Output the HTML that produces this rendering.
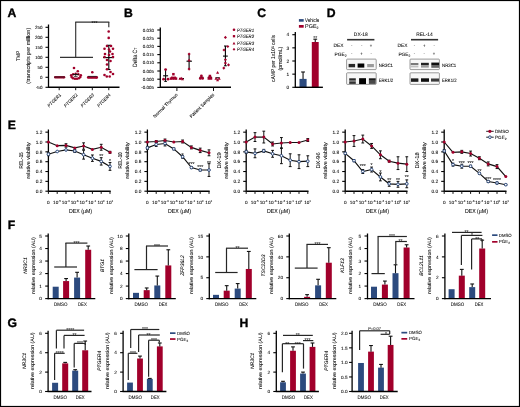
<!DOCTYPE html>
<html><head><meta charset="utf-8"><style>
html,body{margin:0;padding:0;background:#fff;width:520px;height:407px;overflow:hidden;}
svg{display:block;will-change:transform;}

</style></head><body>
<svg width="520" height="407" viewBox="0 0 520 407" text-rendering="geometricPrecision" font-family='"Liberation Sans", sans-serif'>
<rect x="0.00" y="0.00" width="520.00" height="407.00" fill="#fff"/>
<text x="7.50" y="17.30" font-size="12.2" font-weight="bold" fill="#000" stroke="#000" stroke-width="0.35">A</text>
<line x1="48.50" y1="24.50" x2="48.50" y2="87.90" stroke="#000" stroke-width="1.3"/>
<line x1="45.50" y1="87.30" x2="48.50" y2="87.30" stroke="#000" stroke-width="1.1"/>
<text x="42.40" y="88.91" font-size="4.5" text-anchor="end" fill="#000" stroke="#000" stroke-width="0.06">-50</text>
<line x1="45.50" y1="77.30" x2="48.50" y2="77.30" stroke="#000" stroke-width="1.1"/>
<text x="42.40" y="78.91" font-size="4.5" text-anchor="end" fill="#000" stroke="#000" stroke-width="0.06">0</text>
<line x1="45.50" y1="67.30" x2="48.50" y2="67.30" stroke="#000" stroke-width="1.1"/>
<text x="42.40" y="68.91" font-size="4.5" text-anchor="end" fill="#000" stroke="#000" stroke-width="0.06">50</text>
<line x1="45.50" y1="57.30" x2="48.50" y2="57.30" stroke="#000" stroke-width="1.1"/>
<text x="42.40" y="58.91" font-size="4.5" text-anchor="end" fill="#000" stroke="#000" stroke-width="0.06">100</text>
<line x1="45.50" y1="47.30" x2="48.50" y2="47.30" stroke="#000" stroke-width="1.1"/>
<text x="42.40" y="48.91" font-size="4.5" text-anchor="end" fill="#000" stroke="#000" stroke-width="0.06">150</text>
<line x1="45.50" y1="37.30" x2="48.50" y2="37.30" stroke="#000" stroke-width="1.1"/>
<text x="42.40" y="38.91" font-size="4.5" text-anchor="end" fill="#000" stroke="#000" stroke-width="0.06">200</text>
<line x1="45.50" y1="27.30" x2="48.50" y2="27.30" stroke="#000" stroke-width="1.1"/>
<text x="42.40" y="28.91" font-size="4.5" text-anchor="end" fill="#000" stroke="#000" stroke-width="0.06">250</text>
<line x1="48.50" y1="87.30" x2="119.50" y2="87.30" stroke="#000" stroke-width="1.4"/>
<line x1="59.20" y1="87.30" x2="59.20" y2="90.20" stroke="#111" stroke-width="1"/>
<text x="61.40" y="95.40" font-size="4.6" text-anchor="end" font-style="italic" fill="#000" stroke="#000" stroke-width="0.06" textLength="17" lengthAdjust="spacingAndGlyphs" transform="rotate(-45 61.40 95.40)">PTGER1</text>
<line x1="75.70" y1="87.30" x2="75.70" y2="90.20" stroke="#111" stroke-width="1"/>
<text x="77.90" y="95.40" font-size="4.6" text-anchor="end" font-style="italic" fill="#000" stroke="#000" stroke-width="0.06" textLength="17" lengthAdjust="spacingAndGlyphs" transform="rotate(-45 77.90 95.40)">PTGER2</text>
<line x1="92.30" y1="87.30" x2="92.30" y2="90.20" stroke="#111" stroke-width="1"/>
<text x="94.50" y="95.40" font-size="4.6" text-anchor="end" font-style="italic" fill="#000" stroke="#000" stroke-width="0.06" textLength="17" lengthAdjust="spacingAndGlyphs" transform="rotate(-45 94.50 95.40)">PTGER3</text>
<line x1="108.80" y1="87.30" x2="108.80" y2="90.20" stroke="#111" stroke-width="1"/>
<text x="111.00" y="95.40" font-size="4.6" text-anchor="end" font-style="italic" fill="#000" stroke="#000" stroke-width="0.06" textLength="17" lengthAdjust="spacingAndGlyphs" transform="rotate(-45 111.00 95.40)">PTGER4</text>
<text x="20.40" y="55.80" font-size="5.3" text-anchor="middle" fill="#000" stroke="#000" stroke-width="0.06" textLength="10.3" lengthAdjust="spacingAndGlyphs" transform="rotate(-90 20.40 55.80)">TMP</text>
<text x="30.13" y="55.70" font-size="5.4" text-anchor="middle" fill="#000" stroke="#000" stroke-width="0.06" textLength="55.9" lengthAdjust="spacingAndGlyphs" transform="rotate(-90 30.13 55.70)">(transcripts per million)</text>
<line x1="60.00" y1="57.30" x2="93.00" y2="57.30" stroke="#333" stroke-width="1.15"/>
<line x1="75.70" y1="57.30" x2="75.70" y2="22.10" stroke="#333" stroke-width="1.15"/>
<line x1="75.20" y1="22.10" x2="109.30" y2="22.10" stroke="#333" stroke-width="1.15"/>
<line x1="108.80" y1="22.10" x2="108.80" y2="27.30" stroke="#333" stroke-width="1.15"/>
<text x="94.40" y="23.53" font-size="3.9" text-anchor="middle" fill="#000" stroke="#000" stroke-width="0.06" textLength="6.0" lengthAdjust="spacingAndGlyphs">***</text>
<circle cx="55.30" cy="77.30" r="1.3" fill="#a1002b"/>
<circle cx="56.60" cy="77.30" r="1.3" fill="#a1002b"/>
<circle cx="57.90" cy="77.30" r="1.3" fill="#a1002b"/>
<circle cx="59.20" cy="77.30" r="1.3" fill="#a1002b"/>
<circle cx="60.50" cy="77.30" r="1.3" fill="#a1002b"/>
<circle cx="61.80" cy="77.30" r="1.3" fill="#a1002b"/>
<circle cx="63.10" cy="77.30" r="1.3" fill="#a1002b"/>
<circle cx="64.00" cy="77.30" r="1.3" fill="#a1002b"/>
<line x1="54.20" y1="77.00" x2="64.80" y2="77.00" stroke="#222" stroke-width="0.8"/>
<circle cx="74.00" cy="68.00" r="1.3" fill="#a1002b"/>
<circle cx="77.80" cy="71.20" r="1.3" fill="#a1002b"/>
<circle cx="71.20" cy="75.20" r="1.3" fill="#a1002b"/>
<circle cx="71.60" cy="77.00" r="1.3" fill="#a1002b"/>
<circle cx="73.00" cy="78.20" r="1.3" fill="#a1002b"/>
<circle cx="75.00" cy="78.70" r="1.3" fill="#a1002b"/>
<circle cx="77.00" cy="78.70" r="1.3" fill="#a1002b"/>
<circle cx="78.90" cy="78.20" r="1.3" fill="#a1002b"/>
<circle cx="80.30" cy="77.00" r="1.3" fill="#a1002b"/>
<circle cx="80.80" cy="75.20" r="1.3" fill="#a1002b"/>
<circle cx="73.20" cy="74.20" r="1.3" fill="#a1002b"/>
<circle cx="78.30" cy="74.20" r="1.3" fill="#a1002b"/>
<circle cx="75.70" cy="73.80" r="1.3" fill="#a1002b"/>
<line x1="72.60" y1="74.50" x2="78.80" y2="74.50" stroke="#111" stroke-width="0.9"/>
<line x1="75.70" y1="73.30" x2="75.70" y2="76.40" stroke="#111" stroke-width="0.8"/>
<line x1="73.80" y1="76.40" x2="77.60" y2="76.40" stroke="#222" stroke-width="0.8"/>
<circle cx="92.30" cy="72.20" r="1.3" fill="#a1002b"/>
<circle cx="88.20" cy="77.40" r="1.3" fill="#a1002b"/>
<circle cx="89.50" cy="77.40" r="1.3" fill="#a1002b"/>
<circle cx="90.80" cy="77.40" r="1.3" fill="#a1002b"/>
<circle cx="92.10" cy="77.40" r="1.3" fill="#a1002b"/>
<circle cx="93.40" cy="77.40" r="1.3" fill="#a1002b"/>
<circle cx="94.70" cy="77.40" r="1.3" fill="#a1002b"/>
<circle cx="96.00" cy="77.40" r="1.3" fill="#a1002b"/>
<circle cx="96.80" cy="77.40" r="1.3" fill="#a1002b"/>
<line x1="88.00" y1="76.40" x2="96.60" y2="76.40" stroke="#222" stroke-width="0.8"/>
<line x1="108.80" y1="45.30" x2="108.80" y2="69.50" stroke="#000" stroke-width="1.1"/>
<line x1="106.50" y1="45.30" x2="111.20" y2="45.30" stroke="#000" stroke-width="1.1"/>
<line x1="103.00" y1="57.60" x2="114.00" y2="57.60" stroke="#000" stroke-width="1.1"/>
<line x1="107.50" y1="69.50" x2="110.50" y2="69.50" stroke="#000" stroke-width="1.1"/>
<circle cx="108.70" cy="31.50" r="1.3" fill="#a1002b"/>
<circle cx="108.70" cy="37.90" r="1.3" fill="#a1002b"/>
<circle cx="107.00" cy="46.00" r="1.3" fill="#a1002b"/>
<circle cx="111.00" cy="46.00" r="1.3" fill="#a1002b"/>
<circle cx="104.50" cy="48.80" r="1.3" fill="#a1002b"/>
<circle cx="113.00" cy="48.80" r="1.3" fill="#a1002b"/>
<circle cx="109.00" cy="49.50" r="1.3" fill="#a1002b"/>
<circle cx="110.00" cy="51.50" r="1.3" fill="#a1002b"/>
<circle cx="105.00" cy="54.00" r="1.3" fill="#a1002b"/>
<circle cx="112.50" cy="54.00" r="1.3" fill="#a1002b"/>
<circle cx="109.00" cy="55.00" r="1.3" fill="#a1002b"/>
<circle cx="104.50" cy="57.00" r="1.3" fill="#a1002b"/>
<circle cx="113.00" cy="57.00" r="1.3" fill="#a1002b"/>
<circle cx="107.00" cy="60.00" r="1.3" fill="#a1002b"/>
<circle cx="110.50" cy="61.00" r="1.3" fill="#a1002b"/>
<circle cx="107.00" cy="64.50" r="1.3" fill="#a1002b"/>
<circle cx="107.00" cy="69.30" r="1.3" fill="#a1002b"/>
<circle cx="110.50" cy="72.00" r="1.3" fill="#a1002b"/>
<circle cx="113.00" cy="74.00" r="1.3" fill="#a1002b"/>
<circle cx="104.50" cy="75.00" r="1.3" fill="#a1002b"/>
<circle cx="106.80" cy="76.50" r="1.3" fill="#a1002b"/>
<circle cx="109.70" cy="76.50" r="1.3" fill="#a1002b"/>
<text x="124.00" y="17.20" font-size="12.2" font-weight="bold" fill="#000" stroke="#000" stroke-width="0.35">B</text>
<line x1="160.30" y1="27.50" x2="160.30" y2="87.90" stroke="#000" stroke-width="1.3"/>
<line x1="157.30" y1="87.40" x2="160.30" y2="87.40" stroke="#000" stroke-width="1.1"/>
<text x="154.00" y="89.01" font-size="4.5" text-anchor="end" fill="#000" stroke="#000" stroke-width="0.06">-0.005</text>
<line x1="157.30" y1="79.20" x2="160.30" y2="79.20" stroke="#000" stroke-width="1.1"/>
<text x="154.00" y="80.81" font-size="4.5" text-anchor="end" fill="#000" stroke="#000" stroke-width="0.06">0.000</text>
<line x1="157.30" y1="71.00" x2="160.30" y2="71.00" stroke="#000" stroke-width="1.1"/>
<text x="154.00" y="72.61" font-size="4.5" text-anchor="end" fill="#000" stroke="#000" stroke-width="0.06">0.005</text>
<line x1="157.30" y1="62.80" x2="160.30" y2="62.80" stroke="#000" stroke-width="1.1"/>
<text x="154.00" y="64.41" font-size="4.5" text-anchor="end" fill="#000" stroke="#000" stroke-width="0.06">0.010</text>
<line x1="157.30" y1="54.60" x2="160.30" y2="54.60" stroke="#000" stroke-width="1.1"/>
<text x="154.00" y="56.21" font-size="4.5" text-anchor="end" fill="#000" stroke="#000" stroke-width="0.06">0.015</text>
<line x1="157.30" y1="46.40" x2="160.30" y2="46.40" stroke="#000" stroke-width="1.1"/>
<text x="154.00" y="48.01" font-size="4.5" text-anchor="end" fill="#000" stroke="#000" stroke-width="0.06">0.020</text>
<line x1="157.30" y1="38.20" x2="160.30" y2="38.20" stroke="#000" stroke-width="1.1"/>
<text x="154.00" y="39.81" font-size="4.5" text-anchor="end" fill="#000" stroke="#000" stroke-width="0.06">0.025</text>
<line x1="157.30" y1="30.00" x2="160.30" y2="30.00" stroke="#000" stroke-width="1.1"/>
<text x="154.00" y="31.61" font-size="4.5" text-anchor="end" fill="#000" stroke="#000" stroke-width="0.06">0.030</text>
<line x1="160.30" y1="87.30" x2="231.00" y2="87.30" stroke="#000" stroke-width="1.4"/>
<text x="177.90" y="95.20" font-size="4.6" text-anchor="end" fill="#000" stroke="#000" stroke-width="0.06" textLength="32.5" lengthAdjust="spacingAndGlyphs" transform="rotate(-45 177.90 95.20)">Normal Thymus</text>
<text x="214.50" y="95.20" font-size="4.6" text-anchor="end" fill="#000" stroke="#000" stroke-width="0.06" textLength="32.5" lengthAdjust="spacingAndGlyphs" transform="rotate(-45 214.50 95.20)">Patient Samples</text>
<line x1="176.90" y1="87.30" x2="176.90" y2="91.00" stroke="#111" stroke-width="1"/>
<line x1="213.50" y1="87.30" x2="213.50" y2="91.00" stroke="#111" stroke-width="1"/>
<text x="136.52" y="57.30" font-size="6.2" text-anchor="middle" fill="#000" stroke="#000" stroke-width="0.06" textLength="19.5" lengthAdjust="spacingAndGlyphs" transform="rotate(-90 136.52 57.30)">Delta C<tspan font-size="4.2" dy="0.9">T</tspan></text>
<line x1="165.60" y1="75.80" x2="165.60" y2="69.80" stroke="#000" stroke-width="1.0"/>
<line x1="165.60" y1="69.80" x2="165.60" y2="69.80" stroke="#000" stroke-width="1.0"/>
<line x1="165.60" y1="75.80" x2="165.60" y2="81.40" stroke="#000" stroke-width="1.0"/>
<line x1="164.30" y1="81.40" x2="166.90" y2="81.40" stroke="#000" stroke-width="1.0"/>
<line x1="163.10" y1="75.80" x2="168.10" y2="75.80" stroke="#000" stroke-width="1.1"/>
<circle cx="165.60" cy="69.60" r="1.4" fill="#a1002b"/>
<circle cx="163.60" cy="79.20" r="1.4" fill="#a1002b"/>
<circle cx="168.00" cy="79.20" r="1.4" fill="#a1002b"/>
<line x1="171.00" y1="77.60" x2="176.00" y2="77.60" stroke="#000" stroke-width="1.1"/>
<rect x="172.15" y="72.95" width="2.50" height="2.50" fill="#a1002b"/>
<rect x="169.75" y="77.35" width="2.50" height="2.50" fill="#a1002b"/>
<rect x="172.25" y="77.35" width="2.50" height="2.50" fill="#a1002b"/>
<rect x="174.75" y="77.35" width="2.50" height="2.50" fill="#a1002b"/>
<rect x="170.95" y="76.55" width="2.50" height="2.50" fill="#a1002b"/>
<rect x="173.55" y="76.55" width="2.50" height="2.50" fill="#a1002b"/>
<line x1="179.00" y1="78.60" x2="184.00" y2="78.60" stroke="#000" stroke-width="1.1"/>
<polygon points="180.00,76.94 181.56,79.67 178.44,79.67" fill="#a1002b"/>
<polygon points="182.50,77.44 184.06,80.17 180.94,80.17" fill="#a1002b"/>
<polygon points="181.30,76.64 182.86,79.37 179.74,79.37" fill="#a1002b"/>
<line x1="189.10" y1="54.10" x2="189.10" y2="69.10" stroke="#000" stroke-width="1.1"/>
<line x1="186.50" y1="61.20" x2="191.90" y2="61.20" stroke="#000" stroke-width="1.1"/>
<polygon points="189.10,52.55 190.65,54.10 189.10,55.65 187.55,54.10" fill="#a1002b"/>
<polygon points="189.10,58.85 190.65,60.40 189.10,61.95 187.55,60.40" fill="#a1002b"/>
<polygon points="189.10,67.55 190.65,69.10 189.10,70.65 187.55,69.10" fill="#a1002b"/>
<line x1="199.50" y1="77.30" x2="203.50" y2="77.30" stroke="#000" stroke-width="1.1"/>
<circle cx="201.40" cy="76.00" r="1.4" fill="#a1002b"/>
<circle cx="200.30" cy="78.40" r="1.4" fill="#a1002b"/>
<circle cx="202.60" cy="78.40" r="1.4" fill="#a1002b"/>
<line x1="207.80" y1="77.30" x2="212.00" y2="77.30" stroke="#000" stroke-width="1.1"/>
<rect x="208.65" y="74.75" width="2.50" height="2.50" fill="#a1002b"/>
<rect x="207.55" y="77.25" width="2.50" height="2.50" fill="#a1002b"/>
<rect x="209.75" y="77.25" width="2.50" height="2.50" fill="#a1002b"/>
<rect x="208.65" y="75.95" width="2.50" height="2.50" fill="#a1002b"/>
<line x1="215.50" y1="77.80" x2="219.70" y2="77.80" stroke="#000" stroke-width="1.1"/>
<polygon points="217.60,71.04 219.16,73.77 216.04,73.77" fill="#a1002b"/>
<polygon points="216.00,77.04 217.56,79.77 214.44,79.77" fill="#a1002b"/>
<polygon points="219.20,77.04 220.76,79.77 217.64,79.77" fill="#a1002b"/>
<polygon points="217.60,78.44 219.16,81.17 216.04,81.17" fill="#a1002b"/>
<line x1="225.40" y1="46.00" x2="225.40" y2="65.80" stroke="#000" stroke-width="1.1"/>
<line x1="224.00" y1="46.00" x2="226.80" y2="46.00" stroke="#000" stroke-width="1.0"/>
<line x1="224.00" y1="65.80" x2="226.80" y2="65.80" stroke="#000" stroke-width="1.0"/>
<line x1="223.00" y1="56.10" x2="227.80" y2="56.10" stroke="#000" stroke-width="1.1"/>
<polygon points="225.40,35.85 226.95,37.40 225.40,38.95 223.85,37.40" fill="#a1002b"/>
<polygon points="227.80,44.95 229.35,46.50 227.80,48.05 226.25,46.50" fill="#a1002b"/>
<polygon points="224.00,48.45 225.55,50.00 224.00,51.55 222.45,50.00" fill="#a1002b"/>
<polygon points="225.40,58.15 226.95,59.70 225.40,61.25 223.85,59.70" fill="#a1002b"/>
<polygon points="225.40,61.55 226.95,63.10 225.40,64.65 223.85,63.10" fill="#a1002b"/>
<polygon points="228.50,63.35 230.05,64.90 228.50,66.45 226.95,64.90" fill="#a1002b"/>
<polygon points="223.80,66.55 225.35,68.10 223.80,69.65 222.25,68.10" fill="#a1002b"/>
<circle cx="234.00" cy="29.80" r="1.3" fill="#a1002b"/>
<rect x="232.85" y="35.05" width="2.30" height="2.30" fill="#a1002b"/>
<polygon points="234.00,41.86 235.44,44.38 232.56,44.38" fill="#a1002b"/>
<polygon points="234.00,47.90 235.40,49.30 234.00,50.70 232.60,49.30" fill="#a1002b"/>
<text x="237.00" y="31.50" font-size="4.8" font-style="italic" fill="#000" stroke="#000" stroke-width="0.06" textLength="17" lengthAdjust="spacingAndGlyphs">PTGER1</text>
<text x="237.00" y="37.90" font-size="4.8" font-style="italic" fill="#000" stroke="#000" stroke-width="0.06" textLength="17" lengthAdjust="spacingAndGlyphs">PTGER2</text>
<text x="237.00" y="44.80" font-size="4.8" font-style="italic" fill="#000" stroke="#000" stroke-width="0.06" textLength="17" lengthAdjust="spacingAndGlyphs">PTGER3</text>
<text x="237.00" y="51.00" font-size="4.8" font-style="italic" fill="#000" stroke="#000" stroke-width="0.06" textLength="17" lengthAdjust="spacingAndGlyphs">PTGER4</text>
<text x="257.30" y="17.20" font-size="12.2" font-weight="bold" fill="#000" stroke="#000" stroke-width="0.35">C</text>
<line x1="295.30" y1="31.90" x2="295.30" y2="87.90" stroke="#000" stroke-width="1.3"/>
<line x1="292.30" y1="87.30" x2="295.30" y2="87.30" stroke="#000" stroke-width="1.1"/>
<text x="289.10" y="89.02" font-size="4.8" text-anchor="end" fill="#000" stroke="#000" stroke-width="0.06">0</text>
<line x1="292.30" y1="74.15" x2="295.30" y2="74.15" stroke="#000" stroke-width="1.1"/>
<text x="289.10" y="75.87" font-size="4.8" text-anchor="end" fill="#000" stroke="#000" stroke-width="0.06">1</text>
<line x1="292.30" y1="61.00" x2="295.30" y2="61.00" stroke="#000" stroke-width="1.1"/>
<text x="289.10" y="62.72" font-size="4.8" text-anchor="end" fill="#000" stroke="#000" stroke-width="0.06">2</text>
<line x1="292.30" y1="47.85" x2="295.30" y2="47.85" stroke="#000" stroke-width="1.1"/>
<text x="289.10" y="49.57" font-size="4.8" text-anchor="end" fill="#000" stroke="#000" stroke-width="0.06">3</text>
<line x1="292.30" y1="34.70" x2="295.30" y2="34.70" stroke="#000" stroke-width="1.1"/>
<text x="289.10" y="36.42" font-size="4.8" text-anchor="end" fill="#000" stroke="#000" stroke-width="0.06">4</text>
<rect x="299.50" y="78.90" width="7.10" height="8.40" fill="#2c4a7e"/>
<line x1="303.05" y1="78.90" x2="303.05" y2="72.00" stroke="#111" stroke-width="1.1"/>
<line x1="301.15" y1="72.00" x2="304.95" y2="72.00" stroke="#111" stroke-width="1.1"/>
<rect x="311.80" y="42.00" width="6.90" height="45.30" fill="#a1002b"/>
<line x1="315.25" y1="42.00" x2="315.25" y2="39.20" stroke="#111" stroke-width="1.1"/>
<line x1="313.35" y1="39.20" x2="317.15" y2="39.20" stroke="#111" stroke-width="1.1"/>
<line x1="295.30" y1="87.30" x2="322.90" y2="87.30" stroke="#000" stroke-width="1.4"/>
<text x="315.25" y="38.73" font-size="3.9" text-anchor="middle" fill="#000" stroke="#000" stroke-width="0.06" textLength="4.0" lengthAdjust="spacingAndGlyphs">**</text>
<rect x="298.90" y="19.10" width="4.80" height="2.60" fill="#2c4a7e"/>
<rect x="298.90" y="25.00" width="4.80" height="2.70" fill="#a1002b"/>
<text x="305.10" y="21.80" font-size="5.4" fill="#000" stroke="#000" stroke-width="0.06" textLength="14" lengthAdjust="spacingAndGlyphs">Vehicle</text>
<text x="305.10" y="27.80" font-size="5.4" fill="#000" stroke="#000" stroke-width="0.06">PGE<tspan font-size="3.6" dy="1.1">2</tspan></text>
<text x="275.40" y="58.50" font-size="5.6" text-anchor="middle" fill="#000" stroke="#000" stroke-width="0.06" textLength="47" lengthAdjust="spacingAndGlyphs" transform="rotate(-90 275.40 58.50)">cAMP per 1x10<tspan font-size="3.6" dy="-1.8">6</tspan><tspan dy="1.8"> cells</tspan></text>
<text x="281.53" y="58.60" font-size="5.4" text-anchor="middle" fill="#000" stroke="#000" stroke-width="0.06" textLength="24" lengthAdjust="spacingAndGlyphs" transform="rotate(-90 281.53 58.60)">(pmol/mL)</text>
<text x="326.80" y="17.40" font-size="12.2" font-weight="bold" fill="#000" stroke="#000" stroke-width="0.35">D</text>
<defs><filter id="bl" x="-20%" y="-40%" width="140%" height="180%"><feGaussianBlur stdDeviation="0.55"/></filter></defs>
<text x="360.80" y="36.05" font-size="4.9" text-anchor="middle" fill="#000" stroke="#000" stroke-width="0.06">DX-18</text>
<rect x="347.10" y="38.90" width="27.30" height="1.60" fill="#333"/>
<text x="333.50" y="47.20" font-size="4.8" fill="#000" stroke="#000" stroke-width="0.06" textLength="10" lengthAdjust="spacingAndGlyphs">DEX</text>
<text x="334.50" y="55.50" font-size="4.8" fill="#000" stroke="#000" stroke-width="0.06">PGE<tspan font-size="3.3" dy="1">2</tspan></text>
<text x="351.60" y="47.00" font-size="4.2" text-anchor="middle" fill="#000" stroke="#000" stroke-width="0.06">-</text>
<text x="351.60" y="55.30" font-size="4.2" text-anchor="middle" fill="#000" stroke="#000" stroke-width="0.06">-</text>
<text x="361.60" y="47.00" font-size="4.2" text-anchor="middle" fill="#000" stroke="#000" stroke-width="0.06">-</text>
<text x="361.60" y="55.30" font-size="4.2" text-anchor="middle" fill="#000" stroke="#000" stroke-width="0.06">+</text>
<text x="371.10" y="47.00" font-size="4.2" text-anchor="middle" fill="#000" stroke="#000" stroke-width="0.06">+</text>
<text x="371.10" y="55.30" font-size="4.2" text-anchor="middle" fill="#000" stroke="#000" stroke-width="0.06">-</text>
<rect x="346.60" y="59.10" width="29.60" height="10.50" rx="0.8" fill="#f7f7f7" stroke="#666" stroke-width="0.65"/>
<g filter="url(#bl)">
<rect x="348.60" y="63.90" width="6.50" height="3.40" fill="#2a2a2a"/>
<rect x="357.60" y="63.50" width="6.70" height="4.10" fill="#050505"/>
<rect x="367.20" y="64.00" width="6.70" height="3.20" fill="#9a9a9a"/>
</g>
<rect x="346.60" y="72.80" width="29.60" height="11.60" rx="0.8" fill="#f7f7f7" stroke="#666" stroke-width="0.65"/>
<g filter="url(#bl)">
<rect x="349.20" y="78.30" width="6.60" height="2.30" fill="#2a2a2a"/>
<rect x="349.20" y="80.60" width="6.60" height="1.00" fill="#666"/>
<rect x="349.20" y="81.60" width="6.60" height="2.30" fill="#333"/>
<rect x="359.10" y="78.20" width="6.90" height="5.80" fill="#050505"/>
<rect x="368.90" y="78.30" width="6.80" height="2.50" fill="#1a1a1a"/>
<rect x="368.90" y="80.80" width="6.80" height="3.10" fill="#4a4a4a"/>
</g>
<text x="378.70" y="67.00" font-size="4.8" fill="#000" stroke="#000" stroke-width="0.06" textLength="14.3" lengthAdjust="spacingAndGlyphs">NR3C1</text>
<text x="378.70" y="81.50" font-size="4.8" fill="#000" stroke="#000" stroke-width="0.06" textLength="14.5" lengthAdjust="spacingAndGlyphs">ERK1/2</text>
<text x="424.50" y="36.05" font-size="4.9" text-anchor="middle" fill="#000" stroke="#000" stroke-width="0.06">REL-14</text>
<rect x="411.00" y="38.90" width="27.10" height="1.60" fill="#333"/>
<text x="397.40" y="47.20" font-size="4.8" fill="#000" stroke="#000" stroke-width="0.06" textLength="10" lengthAdjust="spacingAndGlyphs">DEX</text>
<text x="398.40" y="55.50" font-size="4.8" fill="#000" stroke="#000" stroke-width="0.06">PGE<tspan font-size="3.3" dy="1">2</tspan></text>
<text x="414.50" y="47.00" font-size="4.2" text-anchor="middle" fill="#000" stroke="#000" stroke-width="0.06">-</text>
<text x="414.50" y="55.30" font-size="4.2" text-anchor="middle" fill="#000" stroke="#000" stroke-width="0.06">-</text>
<text x="424.20" y="47.00" font-size="4.2" text-anchor="middle" fill="#000" stroke="#000" stroke-width="0.06">+</text>
<text x="424.20" y="55.30" font-size="4.2" text-anchor="middle" fill="#000" stroke="#000" stroke-width="0.06">-</text>
<text x="434.10" y="47.00" font-size="4.2" text-anchor="middle" fill="#000" stroke="#000" stroke-width="0.06">-</text>
<text x="434.10" y="55.30" font-size="4.2" text-anchor="middle" fill="#000" stroke="#000" stroke-width="0.06">+</text>
<rect x="410.00" y="59.10" width="29.40" height="10.50" rx="0.8" fill="#f7f7f7" stroke="#666" stroke-width="0.65"/>
<g filter="url(#bl)">
<rect x="410.70" y="63.00" width="7.70" height="2.20" fill="#7a7a7a"/>
<rect x="410.70" y="66.00" width="7.70" height="1.40" fill="#c0c0c0"/>
<rect x="421.00" y="62.80" width="7.80" height="2.60" fill="#222"/>
<rect x="421.00" y="65.80" width="7.80" height="1.80" fill="#999"/>
<rect x="431.30" y="62.60" width="7.80" height="3.00" fill="#0a0a0a"/>
<rect x="431.30" y="65.80" width="7.80" height="2.00" fill="#666"/>
</g>
<rect x="410.00" y="72.80" width="29.40" height="11.60" rx="0.8" fill="#f7f7f7" stroke="#666" stroke-width="0.65"/>
<g filter="url(#bl)">
<rect x="411.00" y="78.40" width="7.40" height="3.40" fill="#1a1a1a"/>
<rect x="421.00" y="78.30" width="8.00" height="3.50" fill="#111"/>
<rect x="431.00" y="78.50" width="8.00" height="3.10" fill="#3a3a3a"/>
</g>
<text x="442.00" y="67.00" font-size="4.8" fill="#000" stroke="#000" stroke-width="0.06" textLength="14.3" lengthAdjust="spacingAndGlyphs">NR3C1</text>
<text x="442.00" y="81.50" font-size="4.8" fill="#000" stroke="#000" stroke-width="0.06" textLength="14.5" lengthAdjust="spacingAndGlyphs">ERK1/2</text>
<text x="7.70" y="128.80" font-size="12.2" font-weight="bold" fill="#000" stroke="#000" stroke-width="0.35">E</text>
<line x1="48.40" y1="129.50" x2="48.40" y2="191.80" stroke="#000" stroke-width="1.3"/>
<line x1="45.40" y1="191.20" x2="48.40" y2="191.20" stroke="#000" stroke-width="1.1"/>
<text x="42.30" y="192.92" font-size="4.8" text-anchor="end" fill="#000" stroke="#000" stroke-width="0.06">0.0</text>
<line x1="45.40" y1="181.36" x2="48.40" y2="181.36" stroke="#000" stroke-width="1.1"/>
<text x="42.30" y="183.08" font-size="4.8" text-anchor="end" fill="#000" stroke="#000" stroke-width="0.06">0.2</text>
<line x1="45.40" y1="171.52" x2="48.40" y2="171.52" stroke="#000" stroke-width="1.1"/>
<text x="42.30" y="173.24" font-size="4.8" text-anchor="end" fill="#000" stroke="#000" stroke-width="0.06">0.4</text>
<line x1="45.40" y1="161.68" x2="48.40" y2="161.68" stroke="#000" stroke-width="1.1"/>
<text x="42.30" y="163.40" font-size="4.8" text-anchor="end" fill="#000" stroke="#000" stroke-width="0.06">0.6</text>
<line x1="45.40" y1="151.84" x2="48.40" y2="151.84" stroke="#000" stroke-width="1.1"/>
<text x="42.30" y="153.56" font-size="4.8" text-anchor="end" fill="#000" stroke="#000" stroke-width="0.06">0.8</text>
<line x1="45.40" y1="142.00" x2="48.40" y2="142.00" stroke="#000" stroke-width="1.1"/>
<text x="42.30" y="143.72" font-size="4.8" text-anchor="end" fill="#000" stroke="#000" stroke-width="0.06">1.0</text>
<line x1="45.40" y1="132.16" x2="48.40" y2="132.16" stroke="#000" stroke-width="1.1"/>
<text x="42.30" y="133.88" font-size="4.8" text-anchor="end" fill="#000" stroke="#000" stroke-width="0.06">1.2</text>
<line x1="48.40" y1="191.20" x2="110.70" y2="191.20" stroke="#000" stroke-width="1.4"/>
<line x1="48.40" y1="191.20" x2="48.40" y2="193.90" stroke="#111" stroke-width="1"/>
<text x="48.40" y="203.50" font-size="4.7" text-anchor="middle" fill="#000" stroke="#000" stroke-width="0.06">0</text>
<line x1="57.20" y1="191.20" x2="57.20" y2="193.90" stroke="#111" stroke-width="1"/>
<text x="57.00" y="203.50" font-size="4.7" text-anchor="middle" fill="#000" stroke="#000" stroke-width="0.06">10<tspan font-size="3.0" dy="-1.6">-5</tspan></text>
<line x1="66.00" y1="191.20" x2="66.00" y2="193.90" stroke="#111" stroke-width="1"/>
<text x="65.80" y="203.50" font-size="4.7" text-anchor="middle" fill="#000" stroke="#000" stroke-width="0.06">10<tspan font-size="3.0" dy="-1.6">-4</tspan></text>
<line x1="74.80" y1="191.20" x2="74.80" y2="193.90" stroke="#111" stroke-width="1"/>
<text x="74.60" y="203.50" font-size="4.7" text-anchor="middle" fill="#000" stroke="#000" stroke-width="0.06">10<tspan font-size="3.0" dy="-1.6">-3</tspan></text>
<line x1="83.60" y1="191.20" x2="83.60" y2="193.90" stroke="#111" stroke-width="1"/>
<text x="83.40" y="203.50" font-size="4.7" text-anchor="middle" fill="#000" stroke="#000" stroke-width="0.06">10<tspan font-size="3.0" dy="-1.6">-2</tspan></text>
<line x1="92.40" y1="191.20" x2="92.40" y2="193.90" stroke="#111" stroke-width="1"/>
<text x="92.20" y="203.50" font-size="4.7" text-anchor="middle" fill="#000" stroke="#000" stroke-width="0.06">10<tspan font-size="3.0" dy="-1.6">-1</tspan></text>
<line x1="101.20" y1="191.20" x2="101.20" y2="193.90" stroke="#111" stroke-width="1"/>
<text x="101.00" y="203.50" font-size="4.7" text-anchor="middle" fill="#000" stroke="#000" stroke-width="0.06">10<tspan font-size="3.0" dy="-1.6">0</tspan></text>
<line x1="110.00" y1="191.20" x2="110.00" y2="193.90" stroke="#111" stroke-width="1"/>
<text x="109.80" y="203.50" font-size="4.7" text-anchor="middle" fill="#000" stroke="#000" stroke-width="0.06">10<tspan font-size="3.0" dy="-1.6">1</tspan></text>
<text x="80.60" y="213.00" font-size="5.8" text-anchor="middle" fill="#000" stroke="#000" stroke-width="0.06" textLength="23" lengthAdjust="spacingAndGlyphs">DEX (µM)</text>
<text x="23.10" y="160.40" font-size="5.6" text-anchor="middle" fill="#000" stroke="#000" stroke-width="0.06" textLength="16.2" lengthAdjust="spacingAndGlyphs" transform="rotate(-90 23.10 160.40)">REL-15</text>
<text x="30.36" y="160.40" font-size="5.2" text-anchor="middle" fill="#000" stroke="#000" stroke-width="0.06" textLength="36.2" lengthAdjust="spacingAndGlyphs" transform="rotate(-90 30.36 160.40)">relative viability</text>
<line x1="48.40" y1="152.73" x2="48.40" y2="155.68" stroke="#111" stroke-width="1.0"/>
<line x1="47.00" y1="152.73" x2="49.80" y2="152.73" stroke="#111" stroke-width="1.0"/>
<line x1="47.00" y1="155.68" x2="49.80" y2="155.68" stroke="#111" stroke-width="1.0"/>
<line x1="66.00" y1="143.72" x2="66.00" y2="147.17" stroke="#111" stroke-width="1.0"/>
<line x1="64.60" y1="143.72" x2="67.40" y2="143.72" stroke="#111" stroke-width="1.0"/>
<line x1="64.60" y1="147.17" x2="67.40" y2="147.17" stroke="#111" stroke-width="1.0"/>
<line x1="74.80" y1="149.53" x2="74.80" y2="152.48" stroke="#111" stroke-width="1.0"/>
<line x1="73.40" y1="149.53" x2="76.20" y2="149.53" stroke="#111" stroke-width="1.0"/>
<line x1="73.40" y1="152.48" x2="76.20" y2="152.48" stroke="#111" stroke-width="1.0"/>
<line x1="83.60" y1="142.84" x2="83.60" y2="149.23" stroke="#111" stroke-width="1.0"/>
<line x1="82.20" y1="142.84" x2="85.00" y2="142.84" stroke="#111" stroke-width="1.0"/>
<line x1="82.20" y1="149.23" x2="85.00" y2="149.23" stroke="#111" stroke-width="1.0"/>
<line x1="83.60" y1="150.27" x2="83.60" y2="159.12" stroke="#111" stroke-width="1.0"/>
<line x1="82.20" y1="150.27" x2="85.00" y2="150.27" stroke="#111" stroke-width="1.0"/>
<line x1="82.20" y1="159.12" x2="85.00" y2="159.12" stroke="#111" stroke-width="1.0"/>
<line x1="92.40" y1="154.99" x2="92.40" y2="161.38" stroke="#111" stroke-width="1.0"/>
<line x1="91.00" y1="154.99" x2="93.80" y2="154.99" stroke="#111" stroke-width="1.0"/>
<line x1="91.00" y1="161.38" x2="93.80" y2="161.38" stroke="#111" stroke-width="1.0"/>
<line x1="101.20" y1="144.31" x2="101.20" y2="150.22" stroke="#111" stroke-width="1.0"/>
<line x1="99.80" y1="144.31" x2="102.60" y2="144.31" stroke="#111" stroke-width="1.0"/>
<line x1="99.80" y1="150.22" x2="102.60" y2="150.22" stroke="#111" stroke-width="1.0"/>
<line x1="101.20" y1="157.69" x2="101.20" y2="165.07" stroke="#111" stroke-width="1.0"/>
<line x1="99.80" y1="157.69" x2="102.60" y2="157.69" stroke="#111" stroke-width="1.0"/>
<line x1="99.80" y1="165.07" x2="102.60" y2="165.07" stroke="#111" stroke-width="1.0"/>
<line x1="110.00" y1="151.35" x2="110.00" y2="153.32" stroke="#111" stroke-width="1.0"/>
<line x1="108.60" y1="151.35" x2="111.40" y2="151.35" stroke="#111" stroke-width="1.0"/>
<line x1="108.60" y1="153.32" x2="111.40" y2="153.32" stroke="#111" stroke-width="1.0"/>
<line x1="110.00" y1="162.47" x2="110.00" y2="170.34" stroke="#111" stroke-width="1.0"/>
<line x1="108.60" y1="162.47" x2="111.40" y2="162.47" stroke="#111" stroke-width="1.0"/>
<line x1="108.60" y1="170.34" x2="111.40" y2="170.34" stroke="#111" stroke-width="1.0"/>
<polyline points="48.40,142.00 57.20,145.69 66.00,145.44 74.80,147.90 83.60,146.03 92.40,149.38 101.20,147.26 110.00,152.33" stroke="#111" stroke-width="1.15" fill="none"/>
<polyline points="48.40,154.20 57.20,151.50 66.00,149.92 74.80,151.00 83.60,154.69 92.40,158.19 101.20,161.38 110.00,166.40" stroke="#111" stroke-width="1.15" fill="none"/>
<circle cx="48.40" cy="142.00" r="1.5" fill="#a1002b"/>
<circle cx="57.20" cy="145.69" r="1.5" fill="#a1002b"/>
<circle cx="66.00" cy="145.44" r="1.5" fill="#a1002b"/>
<circle cx="74.80" cy="147.90" r="1.5" fill="#a1002b"/>
<circle cx="83.60" cy="146.03" r="1.5" fill="#a1002b"/>
<circle cx="92.40" cy="149.38" r="1.5" fill="#a1002b"/>
<circle cx="101.20" cy="147.26" r="1.5" fill="#a1002b"/>
<circle cx="110.00" cy="152.33" r="1.5" fill="#a1002b"/>
<circle cx="48.40" cy="154.20" r="1.35" fill="#fff" stroke="#2c4a7e" stroke-width="1.0"/>
<circle cx="57.20" cy="151.50" r="1.35" fill="#fff" stroke="#2c4a7e" stroke-width="1.0"/>
<circle cx="66.00" cy="149.92" r="1.35" fill="#fff" stroke="#2c4a7e" stroke-width="1.0"/>
<circle cx="74.80" cy="151.00" r="1.35" fill="#fff" stroke="#2c4a7e" stroke-width="1.0"/>
<circle cx="83.60" cy="154.69" r="1.35" fill="#fff" stroke="#2c4a7e" stroke-width="1.0"/>
<circle cx="92.40" cy="158.19" r="1.35" fill="#fff" stroke="#2c4a7e" stroke-width="1.0"/>
<circle cx="101.20" cy="161.38" r="1.35" fill="#fff" stroke="#2c4a7e" stroke-width="1.0"/>
<circle cx="110.00" cy="166.40" r="1.35" fill="#fff" stroke="#2c4a7e" stroke-width="1.0"/>
<text x="101.20" y="157.28" font-size="4.0" text-anchor="middle" fill="#000" stroke="#000" stroke-width="0.06" textLength="4.0" lengthAdjust="spacingAndGlyphs">**</text>
<text x="110.00" y="162.08" font-size="4.0" text-anchor="middle" fill="#000" stroke="#000" stroke-width="0.06" textLength="2.0" lengthAdjust="spacingAndGlyphs">*</text>
<line x1="147.40" y1="129.50" x2="147.40" y2="191.80" stroke="#000" stroke-width="1.3"/>
<line x1="144.40" y1="191.20" x2="147.40" y2="191.20" stroke="#000" stroke-width="1.1"/>
<text x="141.30" y="192.92" font-size="4.8" text-anchor="end" fill="#000" stroke="#000" stroke-width="0.06">0.0</text>
<line x1="144.40" y1="181.36" x2="147.40" y2="181.36" stroke="#000" stroke-width="1.1"/>
<text x="141.30" y="183.08" font-size="4.8" text-anchor="end" fill="#000" stroke="#000" stroke-width="0.06">0.2</text>
<line x1="144.40" y1="171.52" x2="147.40" y2="171.52" stroke="#000" stroke-width="1.1"/>
<text x="141.30" y="173.24" font-size="4.8" text-anchor="end" fill="#000" stroke="#000" stroke-width="0.06">0.4</text>
<line x1="144.40" y1="161.68" x2="147.40" y2="161.68" stroke="#000" stroke-width="1.1"/>
<text x="141.30" y="163.40" font-size="4.8" text-anchor="end" fill="#000" stroke="#000" stroke-width="0.06">0.6</text>
<line x1="144.40" y1="151.84" x2="147.40" y2="151.84" stroke="#000" stroke-width="1.1"/>
<text x="141.30" y="153.56" font-size="4.8" text-anchor="end" fill="#000" stroke="#000" stroke-width="0.06">0.8</text>
<line x1="144.40" y1="142.00" x2="147.40" y2="142.00" stroke="#000" stroke-width="1.1"/>
<text x="141.30" y="143.72" font-size="4.8" text-anchor="end" fill="#000" stroke="#000" stroke-width="0.06">1.0</text>
<line x1="144.40" y1="132.16" x2="147.40" y2="132.16" stroke="#000" stroke-width="1.1"/>
<text x="141.30" y="133.88" font-size="4.8" text-anchor="end" fill="#000" stroke="#000" stroke-width="0.06">1.2</text>
<line x1="147.40" y1="191.20" x2="209.70" y2="191.20" stroke="#000" stroke-width="1.4"/>
<line x1="147.40" y1="191.20" x2="147.40" y2="193.90" stroke="#111" stroke-width="1"/>
<text x="147.40" y="203.50" font-size="4.7" text-anchor="middle" fill="#000" stroke="#000" stroke-width="0.06">0</text>
<line x1="156.20" y1="191.20" x2="156.20" y2="193.90" stroke="#111" stroke-width="1"/>
<text x="156.00" y="203.50" font-size="4.7" text-anchor="middle" fill="#000" stroke="#000" stroke-width="0.06">10<tspan font-size="3.0" dy="-1.6">-5</tspan></text>
<line x1="165.00" y1="191.20" x2="165.00" y2="193.90" stroke="#111" stroke-width="1"/>
<text x="164.80" y="203.50" font-size="4.7" text-anchor="middle" fill="#000" stroke="#000" stroke-width="0.06">10<tspan font-size="3.0" dy="-1.6">-4</tspan></text>
<line x1="173.80" y1="191.20" x2="173.80" y2="193.90" stroke="#111" stroke-width="1"/>
<text x="173.60" y="203.50" font-size="4.7" text-anchor="middle" fill="#000" stroke="#000" stroke-width="0.06">10<tspan font-size="3.0" dy="-1.6">-3</tspan></text>
<line x1="182.60" y1="191.20" x2="182.60" y2="193.90" stroke="#111" stroke-width="1"/>
<text x="182.40" y="203.50" font-size="4.7" text-anchor="middle" fill="#000" stroke="#000" stroke-width="0.06">10<tspan font-size="3.0" dy="-1.6">-2</tspan></text>
<line x1="191.40" y1="191.20" x2="191.40" y2="193.90" stroke="#111" stroke-width="1"/>
<text x="191.20" y="203.50" font-size="4.7" text-anchor="middle" fill="#000" stroke="#000" stroke-width="0.06">10<tspan font-size="3.0" dy="-1.6">-1</tspan></text>
<line x1="200.20" y1="191.20" x2="200.20" y2="193.90" stroke="#111" stroke-width="1"/>
<text x="200.00" y="203.50" font-size="4.7" text-anchor="middle" fill="#000" stroke="#000" stroke-width="0.06">10<tspan font-size="3.0" dy="-1.6">0</tspan></text>
<line x1="209.00" y1="191.20" x2="209.00" y2="193.90" stroke="#111" stroke-width="1"/>
<text x="208.80" y="203.50" font-size="4.7" text-anchor="middle" fill="#000" stroke="#000" stroke-width="0.06">10<tspan font-size="3.0" dy="-1.6">1</tspan></text>
<text x="179.60" y="213.00" font-size="5.8" text-anchor="middle" fill="#000" stroke="#000" stroke-width="0.06" textLength="23" lengthAdjust="spacingAndGlyphs">DEX (µM)</text>
<text x="122.10" y="160.40" font-size="5.6" text-anchor="middle" fill="#000" stroke="#000" stroke-width="0.06" textLength="16.2" lengthAdjust="spacingAndGlyphs" transform="rotate(-90 122.10 160.40)">REL-10</text>
<text x="129.36" y="160.40" font-size="5.2" text-anchor="middle" fill="#000" stroke="#000" stroke-width="0.06" textLength="36.2" lengthAdjust="spacingAndGlyphs" transform="rotate(-90 129.36 160.40)">relative viability</text>
<line x1="147.40" y1="146.43" x2="147.40" y2="149.38" stroke="#111" stroke-width="1.0"/>
<line x1="146.00" y1="146.43" x2="148.80" y2="146.43" stroke="#111" stroke-width="1.0"/>
<line x1="146.00" y1="149.38" x2="148.80" y2="149.38" stroke="#111" stroke-width="1.0"/>
<line x1="156.20" y1="140.52" x2="156.20" y2="142.49" stroke="#111" stroke-width="1.0"/>
<line x1="154.80" y1="140.52" x2="157.60" y2="140.52" stroke="#111" stroke-width="1.0"/>
<line x1="154.80" y1="142.49" x2="157.60" y2="142.49" stroke="#111" stroke-width="1.0"/>
<line x1="156.20" y1="142.49" x2="156.20" y2="146.43" stroke="#111" stroke-width="1.0"/>
<line x1="154.80" y1="142.49" x2="157.60" y2="142.49" stroke="#111" stroke-width="1.0"/>
<line x1="154.80" y1="146.43" x2="157.60" y2="146.43" stroke="#111" stroke-width="1.0"/>
<line x1="165.00" y1="139.05" x2="165.00" y2="142.00" stroke="#111" stroke-width="1.0"/>
<line x1="163.60" y1="139.05" x2="166.40" y2="139.05" stroke="#111" stroke-width="1.0"/>
<line x1="163.60" y1="142.00" x2="166.40" y2="142.00" stroke="#111" stroke-width="1.0"/>
<line x1="165.00" y1="141.02" x2="165.00" y2="145.94" stroke="#111" stroke-width="1.0"/>
<line x1="163.60" y1="141.02" x2="166.40" y2="141.02" stroke="#111" stroke-width="1.0"/>
<line x1="163.60" y1="145.94" x2="166.40" y2="145.94" stroke="#111" stroke-width="1.0"/>
<line x1="173.80" y1="147.90" x2="173.80" y2="149.87" stroke="#111" stroke-width="1.0"/>
<line x1="172.40" y1="147.90" x2="175.20" y2="147.90" stroke="#111" stroke-width="1.0"/>
<line x1="172.40" y1="149.87" x2="175.20" y2="149.87" stroke="#111" stroke-width="1.0"/>
<line x1="182.60" y1="140.03" x2="182.60" y2="142.98" stroke="#111" stroke-width="1.0"/>
<line x1="181.20" y1="140.03" x2="184.00" y2="140.03" stroke="#111" stroke-width="1.0"/>
<line x1="181.20" y1="142.98" x2="184.00" y2="142.98" stroke="#111" stroke-width="1.0"/>
<line x1="182.60" y1="155.28" x2="182.60" y2="158.24" stroke="#111" stroke-width="1.0"/>
<line x1="181.20" y1="155.28" x2="184.00" y2="155.28" stroke="#111" stroke-width="1.0"/>
<line x1="181.20" y1="158.24" x2="184.00" y2="158.24" stroke="#111" stroke-width="1.0"/>
<line x1="191.40" y1="145.94" x2="191.40" y2="148.89" stroke="#111" stroke-width="1.0"/>
<line x1="190.00" y1="145.94" x2="192.80" y2="145.94" stroke="#111" stroke-width="1.0"/>
<line x1="190.00" y1="148.89" x2="192.80" y2="148.89" stroke="#111" stroke-width="1.0"/>
<line x1="191.40" y1="166.60" x2="191.40" y2="168.57" stroke="#111" stroke-width="1.0"/>
<line x1="190.00" y1="166.60" x2="192.80" y2="166.60" stroke="#111" stroke-width="1.0"/>
<line x1="190.00" y1="168.57" x2="192.80" y2="168.57" stroke="#111" stroke-width="1.0"/>
<line x1="200.20" y1="148.15" x2="200.20" y2="152.58" stroke="#111" stroke-width="1.0"/>
<line x1="198.80" y1="148.15" x2="201.60" y2="148.15" stroke="#111" stroke-width="1.0"/>
<line x1="198.80" y1="152.58" x2="201.60" y2="152.58" stroke="#111" stroke-width="1.0"/>
<line x1="200.20" y1="169.06" x2="200.20" y2="171.03" stroke="#111" stroke-width="1.0"/>
<line x1="198.80" y1="169.06" x2="201.60" y2="169.06" stroke="#111" stroke-width="1.0"/>
<line x1="198.80" y1="171.03" x2="201.60" y2="171.03" stroke="#111" stroke-width="1.0"/>
<line x1="209.00" y1="149.87" x2="209.00" y2="155.78" stroke="#111" stroke-width="1.0"/>
<line x1="207.60" y1="149.87" x2="210.40" y2="149.87" stroke="#111" stroke-width="1.0"/>
<line x1="207.60" y1="155.78" x2="210.40" y2="155.78" stroke="#111" stroke-width="1.0"/>
<line x1="209.00" y1="163.65" x2="209.00" y2="176.44" stroke="#111" stroke-width="1.0"/>
<line x1="207.60" y1="163.65" x2="210.40" y2="163.65" stroke="#111" stroke-width="1.0"/>
<line x1="207.60" y1="176.44" x2="210.40" y2="176.44" stroke="#111" stroke-width="1.0"/>
<polyline points="147.40,142.00 156.20,141.51 165.00,140.52 173.80,142.00 182.60,141.51 191.40,147.41 200.20,150.36 209.00,152.82" stroke="#111" stroke-width="1.15" fill="none"/>
<polyline points="147.40,147.90 156.20,144.46 165.00,143.48 173.80,148.89 182.60,156.76 191.40,167.58 200.20,170.04 209.00,170.04" stroke="#111" stroke-width="1.15" fill="none"/>
<circle cx="147.40" cy="142.00" r="1.5" fill="#a1002b"/>
<circle cx="156.20" cy="141.51" r="1.5" fill="#a1002b"/>
<circle cx="165.00" cy="140.52" r="1.5" fill="#a1002b"/>
<circle cx="173.80" cy="142.00" r="1.5" fill="#a1002b"/>
<circle cx="182.60" cy="141.51" r="1.5" fill="#a1002b"/>
<circle cx="191.40" cy="147.41" r="1.5" fill="#a1002b"/>
<circle cx="200.20" cy="150.36" r="1.5" fill="#a1002b"/>
<circle cx="209.00" cy="152.82" r="1.5" fill="#a1002b"/>
<circle cx="147.40" cy="147.90" r="1.35" fill="#fff" stroke="#2c4a7e" stroke-width="1.0"/>
<circle cx="156.20" cy="144.46" r="1.35" fill="#fff" stroke="#2c4a7e" stroke-width="1.0"/>
<circle cx="165.00" cy="143.48" r="1.35" fill="#fff" stroke="#2c4a7e" stroke-width="1.0"/>
<circle cx="173.80" cy="148.89" r="1.35" fill="#fff" stroke="#2c4a7e" stroke-width="1.0"/>
<circle cx="182.60" cy="156.76" r="1.35" fill="#fff" stroke="#2c4a7e" stroke-width="1.0"/>
<circle cx="191.40" cy="167.58" r="1.35" fill="#fff" stroke="#2c4a7e" stroke-width="1.0"/>
<circle cx="200.20" cy="170.04" r="1.35" fill="#fff" stroke="#2c4a7e" stroke-width="1.0"/>
<circle cx="209.00" cy="170.04" r="1.35" fill="#fff" stroke="#2c4a7e" stroke-width="1.0"/>
<text x="182.60" y="155.68" font-size="4.0" text-anchor="middle" fill="#000" stroke="#000" stroke-width="0.06" textLength="2.0" lengthAdjust="spacingAndGlyphs">*</text>
<text x="191.40" y="165.08" font-size="4.0" text-anchor="middle" fill="#000" stroke="#000" stroke-width="0.06" textLength="6.0" lengthAdjust="spacingAndGlyphs">***</text>
<text x="200.20" y="168.48" font-size="4.0" text-anchor="middle" fill="#000" stroke="#000" stroke-width="0.06" textLength="6.0" lengthAdjust="spacingAndGlyphs">***</text>
<text x="209.00" y="164.48" font-size="4.0" text-anchor="middle" fill="#000" stroke="#000" stroke-width="0.06" textLength="4.0" lengthAdjust="spacingAndGlyphs">**</text>
<line x1="246.20" y1="129.50" x2="246.20" y2="191.80" stroke="#000" stroke-width="1.3"/>
<line x1="243.20" y1="191.20" x2="246.20" y2="191.20" stroke="#000" stroke-width="1.1"/>
<text x="240.10" y="192.92" font-size="4.8" text-anchor="end" fill="#000" stroke="#000" stroke-width="0.06">0.0</text>
<line x1="243.20" y1="181.36" x2="246.20" y2="181.36" stroke="#000" stroke-width="1.1"/>
<text x="240.10" y="183.08" font-size="4.8" text-anchor="end" fill="#000" stroke="#000" stroke-width="0.06">0.2</text>
<line x1="243.20" y1="171.52" x2="246.20" y2="171.52" stroke="#000" stroke-width="1.1"/>
<text x="240.10" y="173.24" font-size="4.8" text-anchor="end" fill="#000" stroke="#000" stroke-width="0.06">0.4</text>
<line x1="243.20" y1="161.68" x2="246.20" y2="161.68" stroke="#000" stroke-width="1.1"/>
<text x="240.10" y="163.40" font-size="4.8" text-anchor="end" fill="#000" stroke="#000" stroke-width="0.06">0.6</text>
<line x1="243.20" y1="151.84" x2="246.20" y2="151.84" stroke="#000" stroke-width="1.1"/>
<text x="240.10" y="153.56" font-size="4.8" text-anchor="end" fill="#000" stroke="#000" stroke-width="0.06">0.8</text>
<line x1="243.20" y1="142.00" x2="246.20" y2="142.00" stroke="#000" stroke-width="1.1"/>
<text x="240.10" y="143.72" font-size="4.8" text-anchor="end" fill="#000" stroke="#000" stroke-width="0.06">1.0</text>
<line x1="243.20" y1="132.16" x2="246.20" y2="132.16" stroke="#000" stroke-width="1.1"/>
<text x="240.10" y="133.88" font-size="4.8" text-anchor="end" fill="#000" stroke="#000" stroke-width="0.06">1.2</text>
<line x1="246.20" y1="191.20" x2="308.50" y2="191.20" stroke="#000" stroke-width="1.4"/>
<line x1="246.20" y1="191.20" x2="246.20" y2="193.90" stroke="#111" stroke-width="1"/>
<text x="246.20" y="203.50" font-size="4.7" text-anchor="middle" fill="#000" stroke="#000" stroke-width="0.06">0</text>
<line x1="255.00" y1="191.20" x2="255.00" y2="193.90" stroke="#111" stroke-width="1"/>
<text x="254.80" y="203.50" font-size="4.7" text-anchor="middle" fill="#000" stroke="#000" stroke-width="0.06">10<tspan font-size="3.0" dy="-1.6">-5</tspan></text>
<line x1="263.80" y1="191.20" x2="263.80" y2="193.90" stroke="#111" stroke-width="1"/>
<text x="263.60" y="203.50" font-size="4.7" text-anchor="middle" fill="#000" stroke="#000" stroke-width="0.06">10<tspan font-size="3.0" dy="-1.6">-4</tspan></text>
<line x1="272.60" y1="191.20" x2="272.60" y2="193.90" stroke="#111" stroke-width="1"/>
<text x="272.40" y="203.50" font-size="4.7" text-anchor="middle" fill="#000" stroke="#000" stroke-width="0.06">10<tspan font-size="3.0" dy="-1.6">-3</tspan></text>
<line x1="281.40" y1="191.20" x2="281.40" y2="193.90" stroke="#111" stroke-width="1"/>
<text x="281.20" y="203.50" font-size="4.7" text-anchor="middle" fill="#000" stroke="#000" stroke-width="0.06">10<tspan font-size="3.0" dy="-1.6">-2</tspan></text>
<line x1="290.20" y1="191.20" x2="290.20" y2="193.90" stroke="#111" stroke-width="1"/>
<text x="290.00" y="203.50" font-size="4.7" text-anchor="middle" fill="#000" stroke="#000" stroke-width="0.06">10<tspan font-size="3.0" dy="-1.6">-1</tspan></text>
<line x1="299.00" y1="191.20" x2="299.00" y2="193.90" stroke="#111" stroke-width="1"/>
<text x="298.80" y="203.50" font-size="4.7" text-anchor="middle" fill="#000" stroke="#000" stroke-width="0.06">10<tspan font-size="3.0" dy="-1.6">0</tspan></text>
<line x1="307.80" y1="191.20" x2="307.80" y2="193.90" stroke="#111" stroke-width="1"/>
<text x="307.60" y="203.50" font-size="4.7" text-anchor="middle" fill="#000" stroke="#000" stroke-width="0.06">10<tspan font-size="3.0" dy="-1.6">1</tspan></text>
<text x="278.40" y="213.00" font-size="5.8" text-anchor="middle" fill="#000" stroke="#000" stroke-width="0.06" textLength="23" lengthAdjust="spacingAndGlyphs">DEX (µM)</text>
<text x="220.90" y="160.40" font-size="5.6" text-anchor="middle" fill="#000" stroke="#000" stroke-width="0.06" textLength="16.2" lengthAdjust="spacingAndGlyphs" transform="rotate(-90 220.90 160.40)">DX-19</text>
<text x="228.16" y="160.40" font-size="5.2" text-anchor="middle" fill="#000" stroke="#000" stroke-width="0.06" textLength="36.2" lengthAdjust="spacingAndGlyphs" transform="rotate(-90 228.16 160.40)">relative viability</text>
<line x1="246.20" y1="150.36" x2="246.20" y2="153.32" stroke="#111" stroke-width="1.0"/>
<line x1="244.80" y1="150.36" x2="247.60" y2="150.36" stroke="#111" stroke-width="1.0"/>
<line x1="244.80" y1="153.32" x2="247.60" y2="153.32" stroke="#111" stroke-width="1.0"/>
<line x1="255.00" y1="132.65" x2="255.00" y2="141.51" stroke="#111" stroke-width="1.0"/>
<line x1="253.60" y1="132.65" x2="256.40" y2="132.65" stroke="#111" stroke-width="1.0"/>
<line x1="253.60" y1="141.51" x2="256.40" y2="141.51" stroke="#111" stroke-width="1.0"/>
<line x1="255.00" y1="148.89" x2="255.00" y2="157.74" stroke="#111" stroke-width="1.0"/>
<line x1="253.60" y1="148.89" x2="256.40" y2="148.89" stroke="#111" stroke-width="1.0"/>
<line x1="253.60" y1="157.74" x2="256.40" y2="157.74" stroke="#111" stroke-width="1.0"/>
<line x1="263.80" y1="131.18" x2="263.80" y2="142.98" stroke="#111" stroke-width="1.0"/>
<line x1="262.40" y1="131.18" x2="265.20" y2="131.18" stroke="#111" stroke-width="1.0"/>
<line x1="262.40" y1="142.98" x2="265.20" y2="142.98" stroke="#111" stroke-width="1.0"/>
<line x1="263.80" y1="149.38" x2="263.80" y2="152.33" stroke="#111" stroke-width="1.0"/>
<line x1="262.40" y1="149.38" x2="265.20" y2="149.38" stroke="#111" stroke-width="1.0"/>
<line x1="262.40" y1="152.33" x2="265.20" y2="152.33" stroke="#111" stroke-width="1.0"/>
<line x1="272.60" y1="142.00" x2="272.60" y2="145.94" stroke="#111" stroke-width="1.0"/>
<line x1="271.20" y1="142.00" x2="274.00" y2="142.00" stroke="#111" stroke-width="1.0"/>
<line x1="271.20" y1="145.94" x2="274.00" y2="145.94" stroke="#111" stroke-width="1.0"/>
<line x1="272.60" y1="150.36" x2="272.60" y2="157.25" stroke="#111" stroke-width="1.0"/>
<line x1="271.20" y1="150.36" x2="274.00" y2="150.36" stroke="#111" stroke-width="1.0"/>
<line x1="271.20" y1="157.25" x2="274.00" y2="157.25" stroke="#111" stroke-width="1.0"/>
<line x1="281.40" y1="137.57" x2="281.40" y2="148.40" stroke="#111" stroke-width="1.0"/>
<line x1="280.00" y1="137.57" x2="282.80" y2="137.57" stroke="#111" stroke-width="1.0"/>
<line x1="280.00" y1="148.40" x2="282.80" y2="148.40" stroke="#111" stroke-width="1.0"/>
<line x1="281.40" y1="147.90" x2="281.40" y2="163.65" stroke="#111" stroke-width="1.0"/>
<line x1="280.00" y1="147.90" x2="282.80" y2="147.90" stroke="#111" stroke-width="1.0"/>
<line x1="280.00" y1="163.65" x2="282.80" y2="163.65" stroke="#111" stroke-width="1.0"/>
<line x1="290.20" y1="153.81" x2="290.20" y2="166.60" stroke="#111" stroke-width="1.0"/>
<line x1="288.80" y1="153.81" x2="291.60" y2="153.81" stroke="#111" stroke-width="1.0"/>
<line x1="288.80" y1="166.60" x2="291.60" y2="166.60" stroke="#111" stroke-width="1.0"/>
<line x1="299.00" y1="154.79" x2="299.00" y2="168.57" stroke="#111" stroke-width="1.0"/>
<line x1="297.60" y1="154.79" x2="300.40" y2="154.79" stroke="#111" stroke-width="1.0"/>
<line x1="297.60" y1="168.57" x2="300.40" y2="168.57" stroke="#111" stroke-width="1.0"/>
<line x1="307.80" y1="138.56" x2="307.80" y2="141.51" stroke="#111" stroke-width="1.0"/>
<line x1="306.40" y1="138.56" x2="309.20" y2="138.56" stroke="#111" stroke-width="1.0"/>
<line x1="306.40" y1="141.51" x2="309.20" y2="141.51" stroke="#111" stroke-width="1.0"/>
<line x1="307.80" y1="155.78" x2="307.80" y2="166.60" stroke="#111" stroke-width="1.0"/>
<line x1="306.40" y1="155.78" x2="309.20" y2="155.78" stroke="#111" stroke-width="1.0"/>
<line x1="306.40" y1="166.60" x2="309.20" y2="166.60" stroke="#111" stroke-width="1.0"/>
<polyline points="246.20,142.00 255.00,137.08 263.80,137.08 272.60,143.97 281.40,142.98 290.20,142.49 299.00,142.49 307.80,140.03" stroke="#111" stroke-width="1.15" fill="none"/>
<polyline points="246.20,151.84 255.00,153.32 263.80,150.86 272.60,153.81 281.40,155.78 290.20,160.20 299.00,161.68 307.80,161.19" stroke="#111" stroke-width="1.15" fill="none"/>
<circle cx="246.20" cy="142.00" r="1.5" fill="#a1002b"/>
<circle cx="255.00" cy="137.08" r="1.5" fill="#a1002b"/>
<circle cx="263.80" cy="137.08" r="1.5" fill="#a1002b"/>
<circle cx="272.60" cy="143.97" r="1.5" fill="#a1002b"/>
<circle cx="281.40" cy="142.98" r="1.5" fill="#a1002b"/>
<circle cx="290.20" cy="142.49" r="1.5" fill="#a1002b"/>
<circle cx="299.00" cy="142.49" r="1.5" fill="#a1002b"/>
<circle cx="307.80" cy="140.03" r="1.5" fill="#a1002b"/>
<circle cx="246.20" cy="151.84" r="1.35" fill="#fff" stroke="#2c4a7e" stroke-width="1.0"/>
<circle cx="255.00" cy="153.32" r="1.35" fill="#fff" stroke="#2c4a7e" stroke-width="1.0"/>
<circle cx="263.80" cy="150.86" r="1.35" fill="#fff" stroke="#2c4a7e" stroke-width="1.0"/>
<circle cx="272.60" cy="153.81" r="1.35" fill="#fff" stroke="#2c4a7e" stroke-width="1.0"/>
<circle cx="281.40" cy="155.78" r="1.35" fill="#fff" stroke="#2c4a7e" stroke-width="1.0"/>
<circle cx="290.20" cy="160.20" r="1.35" fill="#fff" stroke="#2c4a7e" stroke-width="1.0"/>
<circle cx="299.00" cy="161.68" r="1.35" fill="#fff" stroke="#2c4a7e" stroke-width="1.0"/>
<circle cx="307.80" cy="161.19" r="1.35" fill="#fff" stroke="#2c4a7e" stroke-width="1.0"/>
<line x1="345.20" y1="129.50" x2="345.20" y2="191.80" stroke="#000" stroke-width="1.3"/>
<line x1="342.20" y1="191.20" x2="345.20" y2="191.20" stroke="#000" stroke-width="1.1"/>
<text x="339.10" y="192.92" font-size="4.8" text-anchor="end" fill="#000" stroke="#000" stroke-width="0.06">0.0</text>
<line x1="342.20" y1="181.36" x2="345.20" y2="181.36" stroke="#000" stroke-width="1.1"/>
<text x="339.10" y="183.08" font-size="4.8" text-anchor="end" fill="#000" stroke="#000" stroke-width="0.06">0.2</text>
<line x1="342.20" y1="171.52" x2="345.20" y2="171.52" stroke="#000" stroke-width="1.1"/>
<text x="339.10" y="173.24" font-size="4.8" text-anchor="end" fill="#000" stroke="#000" stroke-width="0.06">0.4</text>
<line x1="342.20" y1="161.68" x2="345.20" y2="161.68" stroke="#000" stroke-width="1.1"/>
<text x="339.10" y="163.40" font-size="4.8" text-anchor="end" fill="#000" stroke="#000" stroke-width="0.06">0.6</text>
<line x1="342.20" y1="151.84" x2="345.20" y2="151.84" stroke="#000" stroke-width="1.1"/>
<text x="339.10" y="153.56" font-size="4.8" text-anchor="end" fill="#000" stroke="#000" stroke-width="0.06">0.8</text>
<line x1="342.20" y1="142.00" x2="345.20" y2="142.00" stroke="#000" stroke-width="1.1"/>
<text x="339.10" y="143.72" font-size="4.8" text-anchor="end" fill="#000" stroke="#000" stroke-width="0.06">1.0</text>
<line x1="342.20" y1="132.16" x2="345.20" y2="132.16" stroke="#000" stroke-width="1.1"/>
<text x="339.10" y="133.88" font-size="4.8" text-anchor="end" fill="#000" stroke="#000" stroke-width="0.06">1.2</text>
<line x1="345.20" y1="191.20" x2="407.50" y2="191.20" stroke="#000" stroke-width="1.4"/>
<line x1="345.20" y1="191.20" x2="345.20" y2="193.90" stroke="#111" stroke-width="1"/>
<text x="345.20" y="203.50" font-size="4.7" text-anchor="middle" fill="#000" stroke="#000" stroke-width="0.06">0</text>
<line x1="354.00" y1="191.20" x2="354.00" y2="193.90" stroke="#111" stroke-width="1"/>
<text x="353.80" y="203.50" font-size="4.7" text-anchor="middle" fill="#000" stroke="#000" stroke-width="0.06">10<tspan font-size="3.0" dy="-1.6">-5</tspan></text>
<line x1="362.80" y1="191.20" x2="362.80" y2="193.90" stroke="#111" stroke-width="1"/>
<text x="362.60" y="203.50" font-size="4.7" text-anchor="middle" fill="#000" stroke="#000" stroke-width="0.06">10<tspan font-size="3.0" dy="-1.6">-4</tspan></text>
<line x1="371.60" y1="191.20" x2="371.60" y2="193.90" stroke="#111" stroke-width="1"/>
<text x="371.40" y="203.50" font-size="4.7" text-anchor="middle" fill="#000" stroke="#000" stroke-width="0.06">10<tspan font-size="3.0" dy="-1.6">-3</tspan></text>
<line x1="380.40" y1="191.20" x2="380.40" y2="193.90" stroke="#111" stroke-width="1"/>
<text x="380.20" y="203.50" font-size="4.7" text-anchor="middle" fill="#000" stroke="#000" stroke-width="0.06">10<tspan font-size="3.0" dy="-1.6">-2</tspan></text>
<line x1="389.20" y1="191.20" x2="389.20" y2="193.90" stroke="#111" stroke-width="1"/>
<text x="389.00" y="203.50" font-size="4.7" text-anchor="middle" fill="#000" stroke="#000" stroke-width="0.06">10<tspan font-size="3.0" dy="-1.6">-1</tspan></text>
<line x1="398.00" y1="191.20" x2="398.00" y2="193.90" stroke="#111" stroke-width="1"/>
<text x="397.80" y="203.50" font-size="4.7" text-anchor="middle" fill="#000" stroke="#000" stroke-width="0.06">10<tspan font-size="3.0" dy="-1.6">0</tspan></text>
<line x1="406.80" y1="191.20" x2="406.80" y2="193.90" stroke="#111" stroke-width="1"/>
<text x="406.60" y="203.50" font-size="4.7" text-anchor="middle" fill="#000" stroke="#000" stroke-width="0.06">10<tspan font-size="3.0" dy="-1.6">1</tspan></text>
<text x="377.40" y="213.00" font-size="5.8" text-anchor="middle" fill="#000" stroke="#000" stroke-width="0.06" textLength="23" lengthAdjust="spacingAndGlyphs">DEX (µM)</text>
<text x="319.90" y="160.40" font-size="5.6" text-anchor="middle" fill="#000" stroke="#000" stroke-width="0.06" textLength="16.2" lengthAdjust="spacingAndGlyphs" transform="rotate(-90 319.90 160.40)">DX-96</text>
<text x="327.16" y="160.40" font-size="5.2" text-anchor="middle" fill="#000" stroke="#000" stroke-width="0.06" textLength="36.2" lengthAdjust="spacingAndGlyphs" transform="rotate(-90 327.16 160.40)">relative viability</text>
<line x1="345.20" y1="152.33" x2="345.20" y2="154.30" stroke="#111" stroke-width="1.0"/>
<line x1="343.80" y1="152.33" x2="346.60" y2="152.33" stroke="#111" stroke-width="1.0"/>
<line x1="343.80" y1="154.30" x2="346.60" y2="154.30" stroke="#111" stroke-width="1.0"/>
<line x1="354.00" y1="135.60" x2="354.00" y2="146.43" stroke="#111" stroke-width="1.0"/>
<line x1="352.60" y1="135.60" x2="355.40" y2="135.60" stroke="#111" stroke-width="1.0"/>
<line x1="352.60" y1="146.43" x2="355.40" y2="146.43" stroke="#111" stroke-width="1.0"/>
<line x1="354.00" y1="159.71" x2="354.00" y2="161.68" stroke="#111" stroke-width="1.0"/>
<line x1="352.60" y1="159.71" x2="355.40" y2="159.71" stroke="#111" stroke-width="1.0"/>
<line x1="352.60" y1="161.68" x2="355.40" y2="161.68" stroke="#111" stroke-width="1.0"/>
<line x1="362.80" y1="135.11" x2="362.80" y2="142.98" stroke="#111" stroke-width="1.0"/>
<line x1="361.40" y1="135.11" x2="364.20" y2="135.11" stroke="#111" stroke-width="1.0"/>
<line x1="361.40" y1="142.98" x2="364.20" y2="142.98" stroke="#111" stroke-width="1.0"/>
<line x1="362.80" y1="169.55" x2="362.80" y2="173.49" stroke="#111" stroke-width="1.0"/>
<line x1="361.40" y1="169.55" x2="364.20" y2="169.55" stroke="#111" stroke-width="1.0"/>
<line x1="361.40" y1="173.49" x2="364.20" y2="173.49" stroke="#111" stroke-width="1.0"/>
<line x1="371.60" y1="143.48" x2="371.60" y2="148.40" stroke="#111" stroke-width="1.0"/>
<line x1="370.20" y1="143.48" x2="373.00" y2="143.48" stroke="#111" stroke-width="1.0"/>
<line x1="370.20" y1="148.40" x2="373.00" y2="148.40" stroke="#111" stroke-width="1.0"/>
<line x1="371.60" y1="167.09" x2="371.60" y2="172.01" stroke="#111" stroke-width="1.0"/>
<line x1="370.20" y1="167.09" x2="373.00" y2="167.09" stroke="#111" stroke-width="1.0"/>
<line x1="370.20" y1="172.01" x2="373.00" y2="172.01" stroke="#111" stroke-width="1.0"/>
<line x1="380.40" y1="150.86" x2="380.40" y2="158.73" stroke="#111" stroke-width="1.0"/>
<line x1="379.00" y1="150.86" x2="381.80" y2="150.86" stroke="#111" stroke-width="1.0"/>
<line x1="379.00" y1="158.73" x2="381.80" y2="158.73" stroke="#111" stroke-width="1.0"/>
<line x1="380.40" y1="173.00" x2="380.40" y2="180.87" stroke="#111" stroke-width="1.0"/>
<line x1="379.00" y1="173.00" x2="381.80" y2="173.00" stroke="#111" stroke-width="1.0"/>
<line x1="379.00" y1="180.87" x2="381.80" y2="180.87" stroke="#111" stroke-width="1.0"/>
<line x1="389.20" y1="160.20" x2="389.20" y2="162.17" stroke="#111" stroke-width="1.0"/>
<line x1="387.80" y1="160.20" x2="390.60" y2="160.20" stroke="#111" stroke-width="1.0"/>
<line x1="387.80" y1="162.17" x2="390.60" y2="162.17" stroke="#111" stroke-width="1.0"/>
<line x1="389.20" y1="181.36" x2="389.20" y2="186.28" stroke="#111" stroke-width="1.0"/>
<line x1="387.80" y1="181.36" x2="390.60" y2="181.36" stroke="#111" stroke-width="1.0"/>
<line x1="387.80" y1="186.28" x2="390.60" y2="186.28" stroke="#111" stroke-width="1.0"/>
<line x1="398.00" y1="156.76" x2="398.00" y2="169.55" stroke="#111" stroke-width="1.0"/>
<line x1="396.60" y1="156.76" x2="399.40" y2="156.76" stroke="#111" stroke-width="1.0"/>
<line x1="396.60" y1="169.55" x2="399.40" y2="169.55" stroke="#111" stroke-width="1.0"/>
<line x1="398.00" y1="181.36" x2="398.00" y2="187.26" stroke="#111" stroke-width="1.0"/>
<line x1="396.60" y1="181.36" x2="399.40" y2="181.36" stroke="#111" stroke-width="1.0"/>
<line x1="396.60" y1="187.26" x2="399.40" y2="187.26" stroke="#111" stroke-width="1.0"/>
<line x1="406.80" y1="156.76" x2="406.80" y2="171.52" stroke="#111" stroke-width="1.0"/>
<line x1="405.40" y1="156.76" x2="408.20" y2="156.76" stroke="#111" stroke-width="1.0"/>
<line x1="405.40" y1="171.52" x2="408.20" y2="171.52" stroke="#111" stroke-width="1.0"/>
<line x1="406.80" y1="179.88" x2="406.80" y2="187.76" stroke="#111" stroke-width="1.0"/>
<line x1="405.40" y1="179.88" x2="408.20" y2="179.88" stroke="#111" stroke-width="1.0"/>
<line x1="405.40" y1="187.76" x2="408.20" y2="187.76" stroke="#111" stroke-width="1.0"/>
<polyline points="345.20,142.00 354.00,141.02 362.80,139.05 371.60,145.94 380.40,154.79 389.20,161.19 398.00,163.16 406.80,164.14" stroke="#111" stroke-width="1.15" fill="none"/>
<polyline points="345.20,153.32 354.00,160.70 362.80,171.52 371.60,169.55 380.40,176.93 389.20,183.82 398.00,184.31 406.80,183.82" stroke="#111" stroke-width="1.15" fill="none"/>
<circle cx="345.20" cy="142.00" r="1.5" fill="#a1002b"/>
<circle cx="354.00" cy="141.02" r="1.5" fill="#a1002b"/>
<circle cx="362.80" cy="139.05" r="1.5" fill="#a1002b"/>
<circle cx="371.60" cy="145.94" r="1.5" fill="#a1002b"/>
<circle cx="380.40" cy="154.79" r="1.5" fill="#a1002b"/>
<circle cx="389.20" cy="161.19" r="1.5" fill="#a1002b"/>
<circle cx="398.00" cy="163.16" r="1.5" fill="#a1002b"/>
<circle cx="406.80" cy="164.14" r="1.5" fill="#a1002b"/>
<circle cx="345.20" cy="153.32" r="1.35" fill="#fff" stroke="#2c4a7e" stroke-width="1.0"/>
<circle cx="354.00" cy="160.70" r="1.35" fill="#fff" stroke="#2c4a7e" stroke-width="1.0"/>
<circle cx="362.80" cy="171.52" r="1.35" fill="#fff" stroke="#2c4a7e" stroke-width="1.0"/>
<circle cx="371.60" cy="169.55" r="1.35" fill="#fff" stroke="#2c4a7e" stroke-width="1.0"/>
<circle cx="380.40" cy="176.93" r="1.35" fill="#fff" stroke="#2c4a7e" stroke-width="1.0"/>
<circle cx="389.20" cy="183.82" r="1.35" fill="#fff" stroke="#2c4a7e" stroke-width="1.0"/>
<circle cx="398.00" cy="184.31" r="1.35" fill="#fff" stroke="#2c4a7e" stroke-width="1.0"/>
<circle cx="406.80" cy="183.82" r="1.35" fill="#fff" stroke="#2c4a7e" stroke-width="1.0"/>
<text x="362.80" y="167.48" font-size="4.0" text-anchor="middle" fill="#000" stroke="#000" stroke-width="0.06" textLength="6.0" lengthAdjust="spacingAndGlyphs">***</text>
<text x="371.60" y="165.88" font-size="4.0" text-anchor="middle" fill="#000" stroke="#000" stroke-width="0.06" textLength="2.0" lengthAdjust="spacingAndGlyphs">*</text>
<text x="380.40" y="173.18" font-size="4.0" text-anchor="middle" fill="#000" stroke="#000" stroke-width="0.06" textLength="2.0" lengthAdjust="spacingAndGlyphs">*</text>
<text x="389.20" y="181.48" font-size="4.0" text-anchor="middle" fill="#000" stroke="#000" stroke-width="0.06" textLength="4.0" lengthAdjust="spacingAndGlyphs">**</text>
<text x="398.00" y="181.48" font-size="4.0" text-anchor="middle" fill="#000" stroke="#000" stroke-width="0.06" textLength="4.0" lengthAdjust="spacingAndGlyphs">**</text>
<text x="406.80" y="178.38" font-size="4.0" text-anchor="middle" fill="#000" stroke="#000" stroke-width="0.06" textLength="4.0" lengthAdjust="spacingAndGlyphs">**</text>
<line x1="444.20" y1="129.50" x2="444.20" y2="191.80" stroke="#000" stroke-width="1.3"/>
<line x1="441.20" y1="191.20" x2="444.20" y2="191.20" stroke="#000" stroke-width="1.1"/>
<text x="438.10" y="192.92" font-size="4.8" text-anchor="end" fill="#000" stroke="#000" stroke-width="0.06">0.0</text>
<line x1="441.20" y1="181.36" x2="444.20" y2="181.36" stroke="#000" stroke-width="1.1"/>
<text x="438.10" y="183.08" font-size="4.8" text-anchor="end" fill="#000" stroke="#000" stroke-width="0.06">0.2</text>
<line x1="441.20" y1="171.52" x2="444.20" y2="171.52" stroke="#000" stroke-width="1.1"/>
<text x="438.10" y="173.24" font-size="4.8" text-anchor="end" fill="#000" stroke="#000" stroke-width="0.06">0.4</text>
<line x1="441.20" y1="161.68" x2="444.20" y2="161.68" stroke="#000" stroke-width="1.1"/>
<text x="438.10" y="163.40" font-size="4.8" text-anchor="end" fill="#000" stroke="#000" stroke-width="0.06">0.6</text>
<line x1="441.20" y1="151.84" x2="444.20" y2="151.84" stroke="#000" stroke-width="1.1"/>
<text x="438.10" y="153.56" font-size="4.8" text-anchor="end" fill="#000" stroke="#000" stroke-width="0.06">0.8</text>
<line x1="441.20" y1="142.00" x2="444.20" y2="142.00" stroke="#000" stroke-width="1.1"/>
<text x="438.10" y="143.72" font-size="4.8" text-anchor="end" fill="#000" stroke="#000" stroke-width="0.06">1.0</text>
<line x1="441.20" y1="132.16" x2="444.20" y2="132.16" stroke="#000" stroke-width="1.1"/>
<text x="438.10" y="133.88" font-size="4.8" text-anchor="end" fill="#000" stroke="#000" stroke-width="0.06">1.2</text>
<line x1="444.20" y1="191.20" x2="506.50" y2="191.20" stroke="#000" stroke-width="1.4"/>
<line x1="444.20" y1="191.20" x2="444.20" y2="193.90" stroke="#111" stroke-width="1"/>
<text x="444.20" y="203.50" font-size="4.7" text-anchor="middle" fill="#000" stroke="#000" stroke-width="0.06">0</text>
<line x1="453.00" y1="191.20" x2="453.00" y2="193.90" stroke="#111" stroke-width="1"/>
<text x="452.80" y="203.50" font-size="4.7" text-anchor="middle" fill="#000" stroke="#000" stroke-width="0.06">10<tspan font-size="3.0" dy="-1.6">-5</tspan></text>
<line x1="461.80" y1="191.20" x2="461.80" y2="193.90" stroke="#111" stroke-width="1"/>
<text x="461.60" y="203.50" font-size="4.7" text-anchor="middle" fill="#000" stroke="#000" stroke-width="0.06">10<tspan font-size="3.0" dy="-1.6">-4</tspan></text>
<line x1="470.60" y1="191.20" x2="470.60" y2="193.90" stroke="#111" stroke-width="1"/>
<text x="470.40" y="203.50" font-size="4.7" text-anchor="middle" fill="#000" stroke="#000" stroke-width="0.06">10<tspan font-size="3.0" dy="-1.6">-3</tspan></text>
<line x1="479.40" y1="191.20" x2="479.40" y2="193.90" stroke="#111" stroke-width="1"/>
<text x="479.20" y="203.50" font-size="4.7" text-anchor="middle" fill="#000" stroke="#000" stroke-width="0.06">10<tspan font-size="3.0" dy="-1.6">-2</tspan></text>
<line x1="488.20" y1="191.20" x2="488.20" y2="193.90" stroke="#111" stroke-width="1"/>
<text x="488.00" y="203.50" font-size="4.7" text-anchor="middle" fill="#000" stroke="#000" stroke-width="0.06">10<tspan font-size="3.0" dy="-1.6">-1</tspan></text>
<line x1="497.00" y1="191.20" x2="497.00" y2="193.90" stroke="#111" stroke-width="1"/>
<text x="496.80" y="203.50" font-size="4.7" text-anchor="middle" fill="#000" stroke="#000" stroke-width="0.06">10<tspan font-size="3.0" dy="-1.6">0</tspan></text>
<line x1="505.80" y1="191.20" x2="505.80" y2="193.90" stroke="#111" stroke-width="1"/>
<text x="505.60" y="203.50" font-size="4.7" text-anchor="middle" fill="#000" stroke="#000" stroke-width="0.06">10<tspan font-size="3.0" dy="-1.6">1</tspan></text>
<text x="476.40" y="213.00" font-size="5.8" text-anchor="middle" fill="#000" stroke="#000" stroke-width="0.06" textLength="23" lengthAdjust="spacingAndGlyphs">DEX (µM)</text>
<text x="418.90" y="160.40" font-size="5.6" text-anchor="middle" fill="#000" stroke="#000" stroke-width="0.06" textLength="16.2" lengthAdjust="spacingAndGlyphs" transform="rotate(-90 418.90 160.40)">DX-18</text>
<text x="426.16" y="160.40" font-size="5.2" text-anchor="middle" fill="#000" stroke="#000" stroke-width="0.06" textLength="36.2" lengthAdjust="spacingAndGlyphs" transform="rotate(-90 426.16 160.40)">relative viability</text>
<line x1="444.20" y1="149.53" x2="444.20" y2="152.48" stroke="#111" stroke-width="1.0"/>
<line x1="442.80" y1="149.53" x2="445.60" y2="149.53" stroke="#111" stroke-width="1.0"/>
<line x1="442.80" y1="152.48" x2="445.60" y2="152.48" stroke="#111" stroke-width="1.0"/>
<line x1="453.00" y1="163.16" x2="453.00" y2="166.11" stroke="#111" stroke-width="1.0"/>
<line x1="451.60" y1="163.16" x2="454.40" y2="163.16" stroke="#111" stroke-width="1.0"/>
<line x1="451.60" y1="166.11" x2="454.40" y2="166.11" stroke="#111" stroke-width="1.0"/>
<line x1="461.80" y1="150.36" x2="461.80" y2="153.32" stroke="#111" stroke-width="1.0"/>
<line x1="460.40" y1="150.36" x2="463.20" y2="150.36" stroke="#111" stroke-width="1.0"/>
<line x1="460.40" y1="153.32" x2="463.20" y2="153.32" stroke="#111" stroke-width="1.0"/>
<line x1="461.80" y1="164.24" x2="461.80" y2="168.17" stroke="#111" stroke-width="1.0"/>
<line x1="460.40" y1="164.24" x2="463.20" y2="164.24" stroke="#111" stroke-width="1.0"/>
<line x1="460.40" y1="168.17" x2="463.20" y2="168.17" stroke="#111" stroke-width="1.0"/>
<line x1="470.60" y1="151.10" x2="470.60" y2="156.02" stroke="#111" stroke-width="1.0"/>
<line x1="469.20" y1="151.10" x2="472.00" y2="151.10" stroke="#111" stroke-width="1.0"/>
<line x1="469.20" y1="156.02" x2="472.00" y2="156.02" stroke="#111" stroke-width="1.0"/>
<line x1="470.60" y1="165.22" x2="470.60" y2="167.19" stroke="#111" stroke-width="1.0"/>
<line x1="469.20" y1="165.22" x2="472.00" y2="165.22" stroke="#111" stroke-width="1.0"/>
<line x1="469.20" y1="167.19" x2="472.00" y2="167.19" stroke="#111" stroke-width="1.0"/>
<line x1="479.40" y1="156.76" x2="479.40" y2="159.71" stroke="#111" stroke-width="1.0"/>
<line x1="478.00" y1="156.76" x2="480.80" y2="156.76" stroke="#111" stroke-width="1.0"/>
<line x1="478.00" y1="159.71" x2="480.80" y2="159.71" stroke="#111" stroke-width="1.0"/>
<line x1="479.40" y1="172.41" x2="479.40" y2="174.37" stroke="#111" stroke-width="1.0"/>
<line x1="478.00" y1="172.41" x2="480.80" y2="172.41" stroke="#111" stroke-width="1.0"/>
<line x1="478.00" y1="174.37" x2="480.80" y2="174.37" stroke="#111" stroke-width="1.0"/>
<line x1="488.20" y1="161.93" x2="488.20" y2="165.86" stroke="#111" stroke-width="1.0"/>
<line x1="486.80" y1="161.93" x2="489.60" y2="161.93" stroke="#111" stroke-width="1.0"/>
<line x1="486.80" y1="165.86" x2="489.60" y2="165.86" stroke="#111" stroke-width="1.0"/>
<line x1="488.20" y1="180.52" x2="488.20" y2="182.49" stroke="#111" stroke-width="1.0"/>
<line x1="486.80" y1="180.52" x2="489.60" y2="180.52" stroke="#111" stroke-width="1.0"/>
<line x1="486.80" y1="182.49" x2="489.60" y2="182.49" stroke="#111" stroke-width="1.0"/>
<line x1="497.00" y1="164.63" x2="497.00" y2="168.57" stroke="#111" stroke-width="1.0"/>
<line x1="495.60" y1="164.63" x2="498.40" y2="164.63" stroke="#111" stroke-width="1.0"/>
<line x1="495.60" y1="168.57" x2="498.40" y2="168.57" stroke="#111" stroke-width="1.0"/>
<line x1="497.00" y1="182.00" x2="497.00" y2="183.97" stroke="#111" stroke-width="1.0"/>
<line x1="495.60" y1="182.00" x2="498.40" y2="182.00" stroke="#111" stroke-width="1.0"/>
<line x1="495.60" y1="183.97" x2="498.40" y2="183.97" stroke="#111" stroke-width="1.0"/>
<line x1="505.80" y1="184.21" x2="505.80" y2="185.20" stroke="#111" stroke-width="1.0"/>
<line x1="504.40" y1="184.21" x2="507.20" y2="184.21" stroke="#111" stroke-width="1.0"/>
<line x1="504.40" y1="185.20" x2="507.20" y2="185.20" stroke="#111" stroke-width="1.0"/>
<polyline points="444.20,142.00 453.00,152.33 461.80,151.84 470.60,153.56 479.40,158.24 488.20,163.89 497.00,166.60 505.80,176.59" stroke="#111" stroke-width="1.15" fill="none"/>
<polyline points="444.20,151.00 453.00,164.63 461.80,166.21 470.60,166.21 479.40,173.39 488.20,181.51 497.00,182.98 505.80,184.71" stroke="#111" stroke-width="1.15" fill="none"/>
<circle cx="444.20" cy="142.00" r="1.5" fill="#a1002b"/>
<circle cx="453.00" cy="152.33" r="1.5" fill="#a1002b"/>
<circle cx="461.80" cy="151.84" r="1.5" fill="#a1002b"/>
<circle cx="470.60" cy="153.56" r="1.5" fill="#a1002b"/>
<circle cx="479.40" cy="158.24" r="1.5" fill="#a1002b"/>
<circle cx="488.20" cy="163.89" r="1.5" fill="#a1002b"/>
<circle cx="497.00" cy="166.60" r="1.5" fill="#a1002b"/>
<circle cx="505.80" cy="176.59" r="1.5" fill="#a1002b"/>
<circle cx="444.20" cy="151.00" r="1.35" fill="#fff" stroke="#2c4a7e" stroke-width="1.0"/>
<circle cx="453.00" cy="164.63" r="1.35" fill="#fff" stroke="#2c4a7e" stroke-width="1.0"/>
<circle cx="461.80" cy="166.21" r="1.35" fill="#fff" stroke="#2c4a7e" stroke-width="1.0"/>
<circle cx="470.60" cy="166.21" r="1.35" fill="#fff" stroke="#2c4a7e" stroke-width="1.0"/>
<circle cx="479.40" cy="173.39" r="1.35" fill="#fff" stroke="#2c4a7e" stroke-width="1.0"/>
<circle cx="488.20" cy="181.51" r="1.35" fill="#fff" stroke="#2c4a7e" stroke-width="1.0"/>
<circle cx="497.00" cy="182.98" r="1.35" fill="#fff" stroke="#2c4a7e" stroke-width="1.0"/>
<circle cx="505.80" cy="184.71" r="1.35" fill="#fff" stroke="#2c4a7e" stroke-width="1.0"/>
<text x="453.00" y="162.08" font-size="4.0" text-anchor="middle" fill="#000" stroke="#000" stroke-width="0.06" textLength="2.0" lengthAdjust="spacingAndGlyphs">*</text>
<text x="461.80" y="163.98" font-size="4.0" text-anchor="middle" fill="#000" stroke="#000" stroke-width="0.06" textLength="6.0" lengthAdjust="spacingAndGlyphs">***</text>
<text x="470.60" y="163.98" font-size="4.0" text-anchor="middle" fill="#000" stroke="#000" stroke-width="0.06" textLength="6.0" lengthAdjust="spacingAndGlyphs">***</text>
<text x="479.40" y="171.68" font-size="4.0" text-anchor="middle" fill="#000" stroke="#000" stroke-width="0.06" textLength="4.0" lengthAdjust="spacingAndGlyphs">**</text>
<text x="488.20" y="179.88" font-size="4.0" text-anchor="middle" fill="#000" stroke="#000" stroke-width="0.06" textLength="6.0" lengthAdjust="spacingAndGlyphs">***</text>
<text x="497.00" y="181.18" font-size="4.0" text-anchor="middle" fill="#000" stroke="#000" stroke-width="0.06" textLength="8.0" lengthAdjust="spacingAndGlyphs">****</text>
<line x1="486.20" y1="131.30" x2="493.70" y2="131.30" stroke="#222" stroke-width="1"/>
<circle cx="489.90" cy="131.30" r="1.6" fill="#a1002b"/>
<line x1="486.20" y1="137.20" x2="493.70" y2="137.20" stroke="#222" stroke-width="1"/>
<circle cx="489.90" cy="137.20" r="1.35" fill="#fff" stroke="#2c4a7e" stroke-width="1.0"/>
<text x="495.00" y="133.00" font-size="4.6" fill="#000" stroke="#000" stroke-width="0.06" textLength="13.8" lengthAdjust="spacingAndGlyphs">DMSO</text>
<text x="495.00" y="138.90" font-size="4.6" fill="#000" stroke="#000" stroke-width="0.06">PGE<tspan font-size="3.2" dy="1">2</tspan></text>
<text x="7.70" y="229.00" font-size="12.2" font-weight="bold" fill="#000" stroke="#000" stroke-width="0.35">F</text>
<line x1="48.20" y1="233.50" x2="48.20" y2="299.20" stroke="#000" stroke-width="1.3"/>
<line x1="45.20" y1="298.60" x2="48.20" y2="298.60" stroke="#000" stroke-width="1.1"/>
<text x="41.90" y="300.28" font-size="4.7" text-anchor="end" fill="#000" stroke="#000" stroke-width="0.06">0</text>
<line x1="45.20" y1="286.08" x2="48.20" y2="286.08" stroke="#000" stroke-width="1.1"/>
<text x="41.90" y="287.76" font-size="4.7" text-anchor="end" fill="#000" stroke="#000" stroke-width="0.06">1</text>
<line x1="45.20" y1="273.56" x2="48.20" y2="273.56" stroke="#000" stroke-width="1.1"/>
<text x="41.90" y="275.24" font-size="4.7" text-anchor="end" fill="#000" stroke="#000" stroke-width="0.06">2</text>
<line x1="45.20" y1="261.04" x2="48.20" y2="261.04" stroke="#000" stroke-width="1.1"/>
<text x="41.90" y="262.72" font-size="4.7" text-anchor="end" fill="#000" stroke="#000" stroke-width="0.06">3</text>
<line x1="45.20" y1="248.52" x2="48.20" y2="248.52" stroke="#000" stroke-width="1.1"/>
<text x="41.90" y="250.20" font-size="4.7" text-anchor="end" fill="#000" stroke="#000" stroke-width="0.06">4</text>
<line x1="45.20" y1="236.00" x2="48.20" y2="236.00" stroke="#000" stroke-width="1.1"/>
<text x="41.90" y="237.68" font-size="4.7" text-anchor="end" fill="#000" stroke="#000" stroke-width="0.06">5</text>
<rect x="52.70" y="286.71" width="6.00" height="11.89" fill="#2c4a7e"/>
<rect x="63.10" y="281.07" width="6.00" height="17.53" fill="#a1002b"/>
<line x1="66.10" y1="281.07" x2="66.10" y2="278.57" stroke="#111" stroke-width="1.1"/>
<line x1="64.20" y1="278.57" x2="68.00" y2="278.57" stroke="#111" stroke-width="1.1"/>
<rect x="74.10" y="277.57" width="6.00" height="21.03" fill="#2c4a7e"/>
<line x1="77.10" y1="277.57" x2="77.10" y2="272.31" stroke="#111" stroke-width="1.1"/>
<line x1="75.20" y1="272.31" x2="79.00" y2="272.31" stroke="#111" stroke-width="1.1"/>
<rect x="85.20" y="249.77" width="6.00" height="48.83" fill="#a1002b"/>
<line x1="88.20" y1="249.77" x2="88.20" y2="246.02" stroke="#111" stroke-width="1.1"/>
<line x1="86.30" y1="246.02" x2="90.10" y2="246.02" stroke="#111" stroke-width="1.1"/>
<line x1="47.70" y1="298.60" x2="95.30" y2="298.60" stroke="#000" stroke-width="1.4"/>
<text x="60.70" y="305.75" font-size="4.9" text-anchor="middle" fill="#000" stroke="#000" stroke-width="0.06" textLength="13.5" lengthAdjust="spacingAndGlyphs">DMSO</text>
<text x="82.40" y="305.75" font-size="4.9" text-anchor="middle" fill="#000" stroke="#000" stroke-width="0.06" textLength="8.7" lengthAdjust="spacingAndGlyphs">DEX</text>
<text x="27.19" y="265.50" font-size="5.0" text-anchor="middle" font-style="italic" fill="#000" stroke="#000" stroke-width="0.06" transform="rotate(-90 27.19 265.50)">NR3C1</text>
<text x="34.99" y="265.50" font-size="5.0" text-anchor="middle" fill="#000" stroke="#000" stroke-width="0.06" textLength="56.6" lengthAdjust="spacingAndGlyphs" transform="rotate(-90 34.99 265.50)">relative expression (AU)</text>
<line x1="54.20" y1="267.00" x2="77.00" y2="267.00" stroke="#262626" stroke-width="1.2"/>
<line x1="65.90" y1="267.00" x2="65.90" y2="243.10" stroke="#262626" stroke-width="1.2"/>
<line x1="65.40" y1="243.10" x2="87.40" y2="243.10" stroke="#262626" stroke-width="1.2"/>
<text x="76.50" y="243.83" font-size="3.9" text-anchor="middle" fill="#000" stroke="#000" stroke-width="0.06" textLength="6.0" lengthAdjust="spacingAndGlyphs">***</text>
<line x1="128.80" y1="233.50" x2="128.80" y2="299.20" stroke="#000" stroke-width="1.3"/>
<line x1="125.80" y1="298.60" x2="128.80" y2="298.60" stroke="#000" stroke-width="1.1"/>
<text x="122.50" y="300.28" font-size="4.7" text-anchor="end" fill="#000" stroke="#000" stroke-width="0.06">0</text>
<line x1="125.80" y1="286.08" x2="128.80" y2="286.08" stroke="#000" stroke-width="1.1"/>
<text x="122.50" y="287.76" font-size="4.7" text-anchor="end" fill="#000" stroke="#000" stroke-width="0.06">2</text>
<line x1="125.80" y1="273.56" x2="128.80" y2="273.56" stroke="#000" stroke-width="1.1"/>
<text x="122.50" y="275.24" font-size="4.7" text-anchor="end" fill="#000" stroke="#000" stroke-width="0.06">4</text>
<line x1="125.80" y1="261.04" x2="128.80" y2="261.04" stroke="#000" stroke-width="1.1"/>
<text x="122.50" y="262.72" font-size="4.7" text-anchor="end" fill="#000" stroke="#000" stroke-width="0.06">6</text>
<line x1="125.80" y1="248.52" x2="128.80" y2="248.52" stroke="#000" stroke-width="1.1"/>
<text x="122.50" y="250.20" font-size="4.7" text-anchor="end" fill="#000" stroke="#000" stroke-width="0.06">8</text>
<line x1="125.80" y1="236.00" x2="128.80" y2="236.00" stroke="#000" stroke-width="1.1"/>
<text x="122.50" y="237.68" font-size="4.7" text-anchor="end" fill="#000" stroke="#000" stroke-width="0.06">10</text>
<rect x="133.00" y="292.84" width="6.00" height="5.76" fill="#2c4a7e"/>
<rect x="143.70" y="290.15" width="6.00" height="8.45" fill="#a1002b"/>
<line x1="146.70" y1="290.15" x2="146.70" y2="287.96" stroke="#111" stroke-width="1.1"/>
<line x1="144.80" y1="287.96" x2="148.60" y2="287.96" stroke="#111" stroke-width="1.1"/>
<rect x="154.30" y="285.45" width="6.00" height="13.15" fill="#2c4a7e"/>
<line x1="157.30" y1="285.45" x2="157.30" y2="276.06" stroke="#111" stroke-width="1.1"/>
<line x1="155.40" y1="276.06" x2="159.20" y2="276.06" stroke="#111" stroke-width="1.1"/>
<rect x="165.30" y="265.42" width="6.00" height="33.18" fill="#a1002b"/>
<line x1="168.30" y1="265.42" x2="168.30" y2="249.77" stroke="#111" stroke-width="1.1"/>
<line x1="166.40" y1="249.77" x2="170.20" y2="249.77" stroke="#111" stroke-width="1.1"/>
<line x1="128.30" y1="298.60" x2="175.80" y2="298.60" stroke="#000" stroke-width="1.4"/>
<text x="141.30" y="305.75" font-size="4.9" text-anchor="middle" fill="#000" stroke="#000" stroke-width="0.06" textLength="13.5" lengthAdjust="spacingAndGlyphs">DMSO</text>
<text x="163.00" y="305.75" font-size="4.9" text-anchor="middle" fill="#000" stroke="#000" stroke-width="0.06" textLength="8.7" lengthAdjust="spacingAndGlyphs">DEX</text>
<text x="104.49" y="265.50" font-size="5.0" text-anchor="middle" font-style="italic" fill="#000" stroke="#000" stroke-width="0.06" transform="rotate(-90 104.49 265.50)">BTG1</text>
<text x="113.39" y="265.50" font-size="5.0" text-anchor="middle" fill="#000" stroke="#000" stroke-width="0.06" textLength="56.6" lengthAdjust="spacingAndGlyphs" transform="rotate(-90 113.39 265.50)">relative expression (AU)</text>
<line x1="134.40" y1="269.60" x2="157.60" y2="269.60" stroke="#262626" stroke-width="1.2"/>
<line x1="146.50" y1="269.60" x2="146.50" y2="246.00" stroke="#262626" stroke-width="1.2"/>
<line x1="146.00" y1="246.00" x2="168.00" y2="246.00" stroke="#262626" stroke-width="1.2"/>
<text x="157.00" y="246.73" font-size="3.9" text-anchor="middle" fill="#000" stroke="#000" stroke-width="0.06" textLength="6.0" lengthAdjust="spacingAndGlyphs">***</text>
<line x1="209.30" y1="233.50" x2="209.30" y2="299.20" stroke="#000" stroke-width="1.3"/>
<line x1="206.30" y1="298.60" x2="209.30" y2="298.60" stroke="#000" stroke-width="1.1"/>
<text x="203.00" y="300.28" font-size="4.7" text-anchor="end" fill="#000" stroke="#000" stroke-width="0.06">0</text>
<line x1="206.30" y1="277.73" x2="209.30" y2="277.73" stroke="#000" stroke-width="1.1"/>
<text x="203.00" y="279.42" font-size="4.7" text-anchor="end" fill="#000" stroke="#000" stroke-width="0.06">5</text>
<line x1="206.30" y1="256.87" x2="209.30" y2="256.87" stroke="#000" stroke-width="1.1"/>
<text x="203.00" y="258.55" font-size="4.7" text-anchor="end" fill="#000" stroke="#000" stroke-width="0.06">10</text>
<line x1="206.30" y1="236.00" x2="209.30" y2="236.00" stroke="#000" stroke-width="1.1"/>
<text x="203.00" y="237.68" font-size="4.7" text-anchor="end" fill="#000" stroke="#000" stroke-width="0.06">15</text>
<rect x="213.00" y="294.84" width="6.00" height="3.76" fill="#2c4a7e"/>
<rect x="223.70" y="290.67" width="6.00" height="7.93" fill="#a1002b"/>
<line x1="226.70" y1="290.67" x2="226.70" y2="285.66" stroke="#111" stroke-width="1.1"/>
<line x1="224.80" y1="285.66" x2="228.60" y2="285.66" stroke="#111" stroke-width="1.1"/>
<rect x="234.70" y="288.58" width="6.00" height="10.02" fill="#2c4a7e"/>
<line x1="237.70" y1="288.58" x2="237.70" y2="283.58" stroke="#111" stroke-width="1.1"/>
<line x1="235.80" y1="283.58" x2="239.60" y2="283.58" stroke="#111" stroke-width="1.1"/>
<rect x="245.80" y="268.97" width="6.00" height="29.63" fill="#a1002b"/>
<line x1="248.80" y1="268.97" x2="248.80" y2="251.44" stroke="#111" stroke-width="1.1"/>
<line x1="246.90" y1="251.44" x2="250.70" y2="251.44" stroke="#111" stroke-width="1.1"/>
<line x1="208.80" y1="298.60" x2="256.30" y2="298.60" stroke="#000" stroke-width="1.4"/>
<text x="221.80" y="305.75" font-size="4.9" text-anchor="middle" fill="#000" stroke="#000" stroke-width="0.06" textLength="13.5" lengthAdjust="spacingAndGlyphs">DMSO</text>
<text x="243.50" y="305.75" font-size="4.9" text-anchor="middle" fill="#000" stroke="#000" stroke-width="0.06" textLength="8.7" lengthAdjust="spacingAndGlyphs">DEX</text>
<text x="184.49" y="265.50" font-size="5.0" text-anchor="middle" font-style="italic" fill="#000" stroke="#000" stroke-width="0.06" transform="rotate(-90 184.49 265.50)">ZFP36L2</text>
<text x="193.39" y="265.50" font-size="5.0" text-anchor="middle" fill="#000" stroke="#000" stroke-width="0.06" textLength="56.6" lengthAdjust="spacingAndGlyphs" transform="rotate(-90 193.39 265.50)">relative expression (AU)</text>
<line x1="215.20" y1="272.50" x2="237.60" y2="272.50" stroke="#262626" stroke-width="1.2"/>
<line x1="226.50" y1="272.50" x2="226.50" y2="248.20" stroke="#262626" stroke-width="1.2"/>
<line x1="226.00" y1="248.20" x2="248.00" y2="248.20" stroke="#262626" stroke-width="1.2"/>
<text x="237.60" y="248.93" font-size="3.9" text-anchor="middle" fill="#000" stroke="#000" stroke-width="0.06" textLength="4.0" lengthAdjust="spacingAndGlyphs">**</text>
<line x1="289.30" y1="233.50" x2="289.30" y2="299.20" stroke="#000" stroke-width="1.3"/>
<line x1="286.30" y1="298.60" x2="289.30" y2="298.60" stroke="#000" stroke-width="1.1"/>
<text x="283.00" y="300.28" font-size="4.7" text-anchor="end" fill="#000" stroke="#000" stroke-width="0.06">0</text>
<line x1="286.30" y1="277.73" x2="289.30" y2="277.73" stroke="#000" stroke-width="1.1"/>
<text x="283.00" y="279.42" font-size="4.7" text-anchor="end" fill="#000" stroke="#000" stroke-width="0.06">20</text>
<line x1="286.30" y1="256.87" x2="289.30" y2="256.87" stroke="#000" stroke-width="1.1"/>
<text x="283.00" y="258.55" font-size="4.7" text-anchor="end" fill="#000" stroke="#000" stroke-width="0.06">40</text>
<line x1="286.30" y1="236.00" x2="289.30" y2="236.00" stroke="#000" stroke-width="1.1"/>
<text x="283.00" y="237.68" font-size="4.7" text-anchor="end" fill="#000" stroke="#000" stroke-width="0.06">60</text>
<rect x="293.00" y="298.29" width="6.00" height="0.31" fill="#2c4a7e"/>
<rect x="304.10" y="296.83" width="6.00" height="1.77" fill="#a1002b"/>
<line x1="307.10" y1="296.83" x2="307.10" y2="294.64" stroke="#111" stroke-width="1.1"/>
<line x1="305.20" y1="294.64" x2="309.00" y2="294.64" stroke="#111" stroke-width="1.1"/>
<rect x="315.10" y="285.35" width="6.00" height="13.25" fill="#2c4a7e"/>
<line x1="318.10" y1="285.35" x2="318.10" y2="279.30" stroke="#111" stroke-width="1.1"/>
<line x1="316.20" y1="279.30" x2="320.00" y2="279.30" stroke="#111" stroke-width="1.1"/>
<rect x="325.80" y="262.71" width="6.00" height="35.89" fill="#a1002b"/>
<line x1="328.80" y1="262.71" x2="328.80" y2="247.69" stroke="#111" stroke-width="1.1"/>
<line x1="326.90" y1="247.69" x2="330.70" y2="247.69" stroke="#111" stroke-width="1.1"/>
<line x1="288.80" y1="298.60" x2="336.30" y2="298.60" stroke="#000" stroke-width="1.4"/>
<text x="301.80" y="305.75" font-size="4.9" text-anchor="middle" fill="#000" stroke="#000" stroke-width="0.06" textLength="13.5" lengthAdjust="spacingAndGlyphs">DMSO</text>
<text x="323.50" y="305.75" font-size="4.9" text-anchor="middle" fill="#000" stroke="#000" stroke-width="0.06" textLength="8.7" lengthAdjust="spacingAndGlyphs">DEX</text>
<text x="264.99" y="265.50" font-size="5.0" text-anchor="middle" font-style="italic" fill="#000" stroke="#000" stroke-width="0.06" transform="rotate(-90 264.99 265.50)">TSC22D3</text>
<text x="273.39" y="265.50" font-size="5.0" text-anchor="middle" fill="#000" stroke="#000" stroke-width="0.06" textLength="56.6" lengthAdjust="spacingAndGlyphs" transform="rotate(-90 273.39 265.50)">relative expression (AU)</text>
<line x1="294.80" y1="268.10" x2="317.60" y2="268.10" stroke="#262626" stroke-width="1.2"/>
<line x1="307.00" y1="268.10" x2="307.00" y2="244.40" stroke="#262626" stroke-width="1.2"/>
<line x1="306.50" y1="244.40" x2="328.00" y2="244.40" stroke="#262626" stroke-width="1.2"/>
<text x="317.60" y="245.13" font-size="3.9" text-anchor="middle" fill="#000" stroke="#000" stroke-width="0.06" textLength="6.0" lengthAdjust="spacingAndGlyphs">***</text>
<line x1="367.50" y1="233.50" x2="367.50" y2="299.20" stroke="#000" stroke-width="1.3"/>
<line x1="364.50" y1="298.60" x2="367.50" y2="298.60" stroke="#000" stroke-width="1.1"/>
<text x="361.20" y="300.28" font-size="4.7" text-anchor="end" fill="#000" stroke="#000" stroke-width="0.06">0</text>
<line x1="364.50" y1="286.08" x2="367.50" y2="286.08" stroke="#000" stroke-width="1.1"/>
<text x="361.20" y="287.76" font-size="4.7" text-anchor="end" fill="#000" stroke="#000" stroke-width="0.06">1</text>
<line x1="364.50" y1="273.56" x2="367.50" y2="273.56" stroke="#000" stroke-width="1.1"/>
<text x="361.20" y="275.24" font-size="4.7" text-anchor="end" fill="#000" stroke="#000" stroke-width="0.06">2</text>
<line x1="364.50" y1="261.04" x2="367.50" y2="261.04" stroke="#000" stroke-width="1.1"/>
<text x="361.20" y="262.72" font-size="4.7" text-anchor="end" fill="#000" stroke="#000" stroke-width="0.06">3</text>
<line x1="364.50" y1="248.52" x2="367.50" y2="248.52" stroke="#000" stroke-width="1.1"/>
<text x="361.20" y="250.20" font-size="4.7" text-anchor="end" fill="#000" stroke="#000" stroke-width="0.06">4</text>
<line x1="364.50" y1="236.00" x2="367.50" y2="236.00" stroke="#000" stroke-width="1.1"/>
<text x="361.20" y="237.68" font-size="4.7" text-anchor="end" fill="#000" stroke="#000" stroke-width="0.06">5</text>
<rect x="371.00" y="286.71" width="6.00" height="11.89" fill="#2c4a7e"/>
<rect x="381.90" y="284.58" width="6.00" height="14.02" fill="#a1002b"/>
<line x1="384.90" y1="284.58" x2="384.90" y2="281.07" stroke="#111" stroke-width="1.1"/>
<line x1="383.00" y1="281.07" x2="386.80" y2="281.07" stroke="#111" stroke-width="1.1"/>
<rect x="392.50" y="273.18" width="6.00" height="25.42" fill="#2c4a7e"/>
<line x1="395.50" y1="273.18" x2="395.50" y2="264.80" stroke="#111" stroke-width="1.1"/>
<line x1="393.60" y1="264.80" x2="397.40" y2="264.80" stroke="#111" stroke-width="1.1"/>
<rect x="403.60" y="247.52" width="6.00" height="51.08" fill="#a1002b"/>
<line x1="406.60" y1="247.52" x2="406.60" y2="244.76" stroke="#111" stroke-width="1.1"/>
<line x1="404.70" y1="244.76" x2="408.50" y2="244.76" stroke="#111" stroke-width="1.1"/>
<line x1="367.00" y1="298.60" x2="414.50" y2="298.60" stroke="#000" stroke-width="1.4"/>
<text x="380.00" y="305.75" font-size="4.9" text-anchor="middle" fill="#000" stroke="#000" stroke-width="0.06" textLength="13.5" lengthAdjust="spacingAndGlyphs">DMSO</text>
<text x="401.70" y="305.75" font-size="4.9" text-anchor="middle" fill="#000" stroke="#000" stroke-width="0.06" textLength="8.7" lengthAdjust="spacingAndGlyphs">DEX</text>
<text x="343.79" y="265.50" font-size="5.0" text-anchor="middle" font-style="italic" fill="#000" stroke="#000" stroke-width="0.06" transform="rotate(-90 343.79 265.50)">KLF13</text>
<text x="352.29" y="265.50" font-size="5.0" text-anchor="middle" fill="#000" stroke="#000" stroke-width="0.06" textLength="56.6" lengthAdjust="spacingAndGlyphs" transform="rotate(-90 352.29 265.50)">relative expression (AU)</text>
<line x1="371.50" y1="273.60" x2="384.80" y2="273.60" stroke="#262626" stroke-width="1.2"/>
<line x1="378.10" y1="273.60" x2="378.10" y2="236.50" stroke="#262626" stroke-width="1.2"/>
<line x1="377.60" y1="236.50" x2="406.90" y2="236.50" stroke="#262626" stroke-width="1.2"/>
<text x="392.00" y="237.23" font-size="3.9" text-anchor="middle" fill="#000" stroke="#000" stroke-width="0.06" textLength="6.0" lengthAdjust="spacingAndGlyphs">***</text>
<line x1="395.80" y1="264.50" x2="395.80" y2="241.50" stroke="#262626" stroke-width="1.2"/>
<line x1="395.30" y1="241.50" x2="406.90" y2="241.50" stroke="#262626" stroke-width="1.2"/>
<text x="400.50" y="242.23" font-size="3.9" text-anchor="middle" fill="#000" stroke="#000" stroke-width="0.06" textLength="4.0" lengthAdjust="spacingAndGlyphs">**</text>
<line x1="444.90" y1="233.50" x2="444.90" y2="299.20" stroke="#000" stroke-width="1.3"/>
<line x1="441.90" y1="298.60" x2="444.90" y2="298.60" stroke="#000" stroke-width="1.1"/>
<text x="438.60" y="300.28" font-size="4.7" text-anchor="end" fill="#000" stroke="#000" stroke-width="0.06">0</text>
<line x1="441.90" y1="277.73" x2="444.90" y2="277.73" stroke="#000" stroke-width="1.1"/>
<text x="438.60" y="279.42" font-size="4.7" text-anchor="end" fill="#000" stroke="#000" stroke-width="0.06">2</text>
<line x1="441.90" y1="256.87" x2="444.90" y2="256.87" stroke="#000" stroke-width="1.1"/>
<text x="438.60" y="258.55" font-size="4.7" text-anchor="end" fill="#000" stroke="#000" stroke-width="0.06">4</text>
<line x1="441.90" y1="236.00" x2="444.90" y2="236.00" stroke="#000" stroke-width="1.1"/>
<text x="438.60" y="237.68" font-size="4.7" text-anchor="end" fill="#000" stroke="#000" stroke-width="0.06">6</text>
<rect x="448.60" y="289.21" width="6.00" height="9.39" fill="#2c4a7e"/>
<rect x="458.80" y="275.65" width="6.00" height="22.95" fill="#a1002b"/>
<line x1="461.80" y1="275.65" x2="461.80" y2="269.39" stroke="#111" stroke-width="1.1"/>
<line x1="459.90" y1="269.39" x2="463.70" y2="269.39" stroke="#111" stroke-width="1.1"/>
<rect x="469.20" y="287.12" width="6.00" height="11.48" fill="#2c4a7e"/>
<line x1="472.20" y1="287.12" x2="472.20" y2="283.99" stroke="#111" stroke-width="1.1"/>
<line x1="470.30" y1="283.99" x2="474.10" y2="283.99" stroke="#111" stroke-width="1.1"/>
<rect x="479.20" y="248.52" width="6.00" height="50.08" fill="#a1002b"/>
<line x1="482.20" y1="248.52" x2="482.20" y2="240.17" stroke="#111" stroke-width="1.1"/>
<line x1="480.30" y1="240.17" x2="484.10" y2="240.17" stroke="#111" stroke-width="1.1"/>
<line x1="444.40" y1="298.60" x2="491.00" y2="298.60" stroke="#000" stroke-width="1.4"/>
<text x="457.40" y="305.75" font-size="4.9" text-anchor="middle" fill="#000" stroke="#000" stroke-width="0.06" textLength="13.5" lengthAdjust="spacingAndGlyphs">DMSO</text>
<text x="479.10" y="305.75" font-size="4.9" text-anchor="middle" fill="#000" stroke="#000" stroke-width="0.06" textLength="8.7" lengthAdjust="spacingAndGlyphs">DEX</text>
<text x="423.39" y="265.50" font-size="5.0" text-anchor="middle" font-style="italic" fill="#000" stroke="#000" stroke-width="0.06" transform="rotate(-90 423.39 265.50)">BCL2L11</text>
<text x="431.19" y="265.50" font-size="5.0" text-anchor="middle" fill="#000" stroke="#000" stroke-width="0.06" textLength="56.6" lengthAdjust="spacingAndGlyphs" transform="rotate(-90 431.19 265.50)">relative expression (AU)</text>
<line x1="452.00" y1="232.40" x2="481.60" y2="232.40" stroke="#262626" stroke-width="1.2"/>
<text x="466.50" y="233.13" font-size="3.9" text-anchor="middle" fill="#000" stroke="#000" stroke-width="0.06" textLength="4.0" lengthAdjust="spacingAndGlyphs">**</text>
<line x1="461.40" y1="235.40" x2="482.40" y2="235.40" stroke="#262626" stroke-width="1.2"/>
<line x1="461.40" y1="235.40" x2="461.40" y2="265.10" stroke="#262626" stroke-width="1.2"/>
<text x="471.90" y="236.13" font-size="3.9" text-anchor="middle" fill="#000" stroke="#000" stroke-width="0.06" textLength="2.0" lengthAdjust="spacingAndGlyphs">*</text>
<line x1="471.60" y1="238.90" x2="482.00" y2="238.90" stroke="#262626" stroke-width="1.2"/>
<line x1="471.60" y1="238.90" x2="471.60" y2="269.40" stroke="#262626" stroke-width="1.2"/>
<line x1="482.00" y1="238.90" x2="482.00" y2="241.50" stroke="#262626" stroke-width="1.2"/>
<text x="477.30" y="239.63" font-size="3.9" text-anchor="middle" fill="#000" stroke="#000" stroke-width="0.06" textLength="4.0" lengthAdjust="spacingAndGlyphs">**</text>
<rect x="492.10" y="234.30" width="5.40" height="1.70" fill="#2c4a7e"/>
<rect x="492.10" y="241.00" width="5.40" height="1.70" fill="#a1002b"/>
<text x="498.80" y="236.70" font-size="4.5" fill="#000" stroke="#000" stroke-width="0.06" textLength="12.8" lengthAdjust="spacingAndGlyphs">DMSO</text>
<text x="498.80" y="243.40" font-size="4.5" fill="#000" stroke="#000" stroke-width="0.06">PGE<tspan font-size="3.1" dy="1">2</tspan></text>
<text x="7.50" y="327.40" font-size="12.2" font-weight="bold" fill="#000" stroke="#000" stroke-width="0.35">G</text>
<text x="239.60" y="327.40" font-size="12.2" font-weight="bold" fill="#000" stroke="#000" stroke-width="0.35">H</text>
<line x1="48.10" y1="330.80" x2="48.10" y2="392.10" stroke="#000" stroke-width="1.3"/>
<line x1="45.10" y1="391.50" x2="48.10" y2="391.50" stroke="#000" stroke-width="1.1"/>
<text x="41.80" y="393.18" font-size="4.7" text-anchor="end" fill="#000" stroke="#000" stroke-width="0.06">0</text>
<line x1="45.10" y1="372.10" x2="48.10" y2="372.10" stroke="#000" stroke-width="1.1"/>
<text x="41.80" y="373.78" font-size="4.7" text-anchor="end" fill="#000" stroke="#000" stroke-width="0.06">2</text>
<line x1="45.10" y1="352.70" x2="48.10" y2="352.70" stroke="#000" stroke-width="1.1"/>
<text x="41.80" y="354.38" font-size="4.7" text-anchor="end" fill="#000" stroke="#000" stroke-width="0.06">4</text>
<line x1="45.10" y1="333.30" x2="48.10" y2="333.30" stroke="#000" stroke-width="1.1"/>
<text x="41.80" y="334.98" font-size="4.7" text-anchor="end" fill="#000" stroke="#000" stroke-width="0.06">6</text>
<rect x="52.10" y="382.77" width="6.00" height="8.73" fill="#2c4a7e"/>
<rect x="62.20" y="363.37" width="6.00" height="28.13" fill="#a1002b"/>
<line x1="65.20" y1="363.37" x2="65.20" y2="362.40" stroke="#111" stroke-width="1.1"/>
<line x1="63.30" y1="362.40" x2="67.10" y2="362.40" stroke="#111" stroke-width="1.1"/>
<rect x="72.20" y="370.64" width="6.00" height="20.86" fill="#2c4a7e"/>
<line x1="75.20" y1="370.64" x2="75.20" y2="369.68" stroke="#111" stroke-width="1.1"/>
<line x1="73.30" y1="369.68" x2="77.10" y2="369.68" stroke="#111" stroke-width="1.1"/>
<rect x="82.20" y="350.28" width="6.00" height="41.22" fill="#a1002b"/>
<line x1="85.20" y1="350.28" x2="85.20" y2="341.06" stroke="#111" stroke-width="1.1"/>
<line x1="83.30" y1="341.06" x2="87.10" y2="341.06" stroke="#111" stroke-width="1.1"/>
<line x1="47.60" y1="391.50" x2="91.50" y2="391.50" stroke="#000" stroke-width="1.4"/>
<text x="60.20" y="399.15" font-size="4.9" text-anchor="middle" fill="#000" stroke="#000" stroke-width="0.06" textLength="13.5" lengthAdjust="spacingAndGlyphs">DMSO</text>
<text x="80.20" y="399.15" font-size="4.9" text-anchor="middle" fill="#000" stroke="#000" stroke-width="0.06" textLength="8.7" lengthAdjust="spacingAndGlyphs">DEX</text>
<text x="26.39" y="360.80" font-size="5.0" text-anchor="middle" font-style="italic" fill="#000" stroke="#000" stroke-width="0.06" transform="rotate(-90 26.39 360.80)">NR3C1</text>
<text x="34.39" y="360.80" font-size="5.0" text-anchor="middle" fill="#000" stroke="#000" stroke-width="0.06" textLength="56.6" lengthAdjust="spacingAndGlyphs" transform="rotate(-90 34.39 360.80)">relative expression (AU)</text>
<line x1="56.40" y1="330.20" x2="84.10" y2="330.20" stroke="#262626" stroke-width="1.2"/>
<line x1="56.40" y1="330.20" x2="56.40" y2="348.60" stroke="#262626" stroke-width="1.2"/>
<text x="70.20" y="331.03" font-size="3.9" text-anchor="middle" fill="#000" stroke="#000" stroke-width="0.06" textLength="8.0" lengthAdjust="spacingAndGlyphs">****</text>
<line x1="64.00" y1="335.40" x2="84.60" y2="335.40" stroke="#262626" stroke-width="1.2"/>
<line x1="64.00" y1="335.40" x2="64.00" y2="348.60" stroke="#262626" stroke-width="1.2"/>
<text x="74.50" y="336.23" font-size="3.9" text-anchor="middle" fill="#000" stroke="#000" stroke-width="0.06" textLength="4.0" lengthAdjust="spacingAndGlyphs">**</text>
<line x1="74.20" y1="343.40" x2="85.30" y2="343.40" stroke="#262626" stroke-width="1.2"/>
<line x1="74.20" y1="343.40" x2="74.20" y2="367.40" stroke="#262626" stroke-width="1.2"/>
<line x1="85.30" y1="343.40" x2="85.30" y2="345.00" stroke="#262626" stroke-width="1.2"/>
<text x="80.00" y="344.23" font-size="3.9" text-anchor="middle" fill="#000" stroke="#000" stroke-width="0.06" textLength="6.0" lengthAdjust="spacingAndGlyphs">***</text>
<line x1="54.60" y1="353.30" x2="64.70" y2="353.30" stroke="#262626" stroke-width="1.2"/>
<line x1="54.60" y1="353.30" x2="54.60" y2="380.00" stroke="#262626" stroke-width="1.2"/>
<text x="59.70" y="354.13" font-size="3.9" text-anchor="middle" fill="#000" stroke="#000" stroke-width="0.06" textLength="8.0" lengthAdjust="spacingAndGlyphs">****</text>
<line x1="123.10" y1="330.80" x2="123.10" y2="392.10" stroke="#000" stroke-width="1.3"/>
<line x1="120.10" y1="391.50" x2="123.10" y2="391.50" stroke="#000" stroke-width="1.1"/>
<text x="116.80" y="393.18" font-size="4.7" text-anchor="end" fill="#000" stroke="#000" stroke-width="0.06">0</text>
<line x1="120.10" y1="372.10" x2="123.10" y2="372.10" stroke="#000" stroke-width="1.1"/>
<text x="116.80" y="373.78" font-size="4.7" text-anchor="end" fill="#000" stroke="#000" stroke-width="0.06">2</text>
<line x1="120.10" y1="352.70" x2="123.10" y2="352.70" stroke="#000" stroke-width="1.1"/>
<text x="116.80" y="354.38" font-size="4.7" text-anchor="end" fill="#000" stroke="#000" stroke-width="0.06">4</text>
<line x1="120.10" y1="333.30" x2="123.10" y2="333.30" stroke="#000" stroke-width="1.1"/>
<text x="116.80" y="334.98" font-size="4.7" text-anchor="end" fill="#000" stroke="#000" stroke-width="0.06">6</text>
<rect x="127.10" y="382.58" width="5.80" height="8.92" fill="#2c4a7e"/>
<rect x="137.10" y="358.52" width="5.80" height="32.98" fill="#a1002b"/>
<line x1="140.00" y1="358.52" x2="140.00" y2="356.10" stroke="#111" stroke-width="1.1"/>
<line x1="138.10" y1="356.10" x2="141.90" y2="356.10" stroke="#111" stroke-width="1.1"/>
<rect x="146.90" y="378.89" width="5.80" height="12.61" fill="#2c4a7e"/>
<line x1="149.80" y1="378.89" x2="149.80" y2="378.41" stroke="#111" stroke-width="1.1"/>
<line x1="147.90" y1="378.41" x2="151.70" y2="378.41" stroke="#111" stroke-width="1.1"/>
<rect x="156.90" y="346.39" width="5.80" height="45.11" fill="#a1002b"/>
<line x1="159.80" y1="346.39" x2="159.80" y2="343.00" stroke="#111" stroke-width="1.1"/>
<line x1="157.90" y1="343.00" x2="161.70" y2="343.00" stroke="#111" stroke-width="1.1"/>
<line x1="122.60" y1="391.50" x2="166.40" y2="391.50" stroke="#000" stroke-width="1.4"/>
<text x="135.20" y="399.15" font-size="4.9" text-anchor="middle" fill="#000" stroke="#000" stroke-width="0.06" textLength="13.5" lengthAdjust="spacingAndGlyphs">DMSO</text>
<text x="155.20" y="399.15" font-size="4.9" text-anchor="middle" fill="#000" stroke="#000" stroke-width="0.06" textLength="8.7" lengthAdjust="spacingAndGlyphs">DEX</text>
<text x="101.09" y="360.80" font-size="5.0" text-anchor="middle" font-style="italic" fill="#000" stroke="#000" stroke-width="0.06" transform="rotate(-90 101.09 360.80)">PTGER4</text>
<text x="108.69" y="360.80" font-size="5.0" text-anchor="middle" fill="#000" stroke="#000" stroke-width="0.06" textLength="56.6" lengthAdjust="spacingAndGlyphs" transform="rotate(-90 108.69 360.80)">relative expression (AU)</text>
<line x1="130.70" y1="329.50" x2="159.30" y2="329.50" stroke="#262626" stroke-width="1.2"/>
<line x1="130.70" y1="329.50" x2="130.70" y2="348.00" stroke="#262626" stroke-width="1.2"/>
<text x="145.00" y="330.33" font-size="3.9" text-anchor="middle" fill="#000" stroke="#000" stroke-width="0.06" textLength="6.0" lengthAdjust="spacingAndGlyphs">***</text>
<line x1="138.60" y1="335.00" x2="159.80" y2="335.00" stroke="#262626" stroke-width="1.2"/>
<line x1="138.60" y1="335.00" x2="138.60" y2="352.00" stroke="#262626" stroke-width="1.2"/>
<text x="148.60" y="335.83" font-size="3.9" text-anchor="middle" fill="#000" stroke="#000" stroke-width="0.06" textLength="4.0" lengthAdjust="spacingAndGlyphs">**</text>
<line x1="148.60" y1="340.20" x2="159.30" y2="340.20" stroke="#262626" stroke-width="1.2"/>
<line x1="148.60" y1="340.20" x2="148.60" y2="376.70" stroke="#262626" stroke-width="1.2"/>
<line x1="159.30" y1="340.20" x2="159.30" y2="342.50" stroke="#262626" stroke-width="1.2"/>
<text x="154.00" y="341.03" font-size="3.9" text-anchor="middle" fill="#000" stroke="#000" stroke-width="0.06" textLength="6.0" lengthAdjust="spacingAndGlyphs">***</text>
<line x1="128.30" y1="353.30" x2="137.40" y2="353.30" stroke="#262626" stroke-width="1.2"/>
<line x1="128.30" y1="353.30" x2="128.30" y2="380.00" stroke="#262626" stroke-width="1.2"/>
<text x="133.00" y="354.13" font-size="3.9" text-anchor="middle" fill="#000" stroke="#000" stroke-width="0.06" textLength="6.0" lengthAdjust="spacingAndGlyphs">***</text>
<rect x="170.00" y="332.30" width="5.50" height="1.70" fill="#2c4a7e"/>
<rect x="170.00" y="338.20" width="5.50" height="1.70" fill="#a1002b"/>
<text x="177.10" y="334.70" font-size="4.5" fill="#000" stroke="#000" stroke-width="0.06" textLength="12.8" lengthAdjust="spacingAndGlyphs">DMSO</text>
<text x="177.10" y="340.60" font-size="4.5" fill="#000" stroke="#000" stroke-width="0.06">PGE<tspan font-size="3.1" dy="1">2</tspan></text>
<line x1="276.30" y1="330.80" x2="276.30" y2="392.10" stroke="#000" stroke-width="1.3"/>
<line x1="273.30" y1="391.50" x2="276.30" y2="391.50" stroke="#000" stroke-width="1.1"/>
<text x="270.00" y="393.18" font-size="4.7" text-anchor="end" fill="#000" stroke="#000" stroke-width="0.06">0</text>
<line x1="273.30" y1="372.10" x2="276.30" y2="372.10" stroke="#000" stroke-width="1.1"/>
<text x="270.00" y="373.78" font-size="4.7" text-anchor="end" fill="#000" stroke="#000" stroke-width="0.06">2</text>
<line x1="273.30" y1="352.70" x2="276.30" y2="352.70" stroke="#000" stroke-width="1.1"/>
<text x="270.00" y="354.38" font-size="4.7" text-anchor="end" fill="#000" stroke="#000" stroke-width="0.06">4</text>
<line x1="273.30" y1="333.30" x2="276.30" y2="333.30" stroke="#000" stroke-width="1.1"/>
<text x="270.00" y="334.98" font-size="4.7" text-anchor="end" fill="#000" stroke="#000" stroke-width="0.06">6</text>
<rect x="280.10" y="382.29" width="5.80" height="9.21" fill="#2c4a7e"/>
<line x1="283.00" y1="382.29" x2="283.00" y2="381.31" stroke="#111" stroke-width="1.1"/>
<line x1="281.10" y1="381.31" x2="284.90" y2="381.31" stroke="#111" stroke-width="1.1"/>
<rect x="290.10" y="350.76" width="5.80" height="40.74" fill="#a1002b"/>
<line x1="293.00" y1="350.76" x2="293.00" y2="346.88" stroke="#111" stroke-width="1.1"/>
<line x1="291.10" y1="346.88" x2="294.90" y2="346.88" stroke="#111" stroke-width="1.1"/>
<rect x="300.10" y="373.56" width="5.80" height="17.94" fill="#2c4a7e"/>
<line x1="303.00" y1="373.56" x2="303.00" y2="372.10" stroke="#111" stroke-width="1.1"/>
<line x1="301.10" y1="372.10" x2="304.90" y2="372.10" stroke="#111" stroke-width="1.1"/>
<rect x="309.60" y="346.88" width="5.80" height="44.62" fill="#a1002b"/>
<line x1="312.50" y1="346.88" x2="312.50" y2="343.00" stroke="#111" stroke-width="1.1"/>
<line x1="310.60" y1="343.00" x2="314.40" y2="343.00" stroke="#111" stroke-width="1.1"/>
<line x1="275.80" y1="391.50" x2="318.90" y2="391.50" stroke="#000" stroke-width="1.4"/>
<text x="288.40" y="399.15" font-size="4.9" text-anchor="middle" fill="#000" stroke="#000" stroke-width="0.06" textLength="13.5" lengthAdjust="spacingAndGlyphs">DMSO</text>
<text x="308.40" y="399.15" font-size="4.9" text-anchor="middle" fill="#000" stroke="#000" stroke-width="0.06" textLength="8.7" lengthAdjust="spacingAndGlyphs">DEX</text>
<text x="253.89" y="360.80" font-size="5.0" text-anchor="middle" font-style="italic" fill="#000" stroke="#000" stroke-width="0.06" transform="rotate(-90 253.89 360.80)">NR3C1</text>
<text x="261.99" y="360.80" font-size="5.0" text-anchor="middle" fill="#000" stroke="#000" stroke-width="0.06" textLength="56.6" lengthAdjust="spacingAndGlyphs" transform="rotate(-90 261.99 360.80)">relative expression (AU)</text>
<line x1="283.00" y1="335.40" x2="312.80" y2="335.40" stroke="#262626" stroke-width="1.2"/>
<text x="297.70" y="336.23" font-size="3.9" text-anchor="middle" fill="#000" stroke="#000" stroke-width="0.06" textLength="4.0" lengthAdjust="spacingAndGlyphs">**</text>
<line x1="282.40" y1="343.70" x2="303.50" y2="343.70" stroke="#262626" stroke-width="1.2"/>
<line x1="282.40" y1="343.70" x2="282.40" y2="372.30" stroke="#262626" stroke-width="1.2"/>
<line x1="303.50" y1="343.70" x2="303.50" y2="368.60" stroke="#262626" stroke-width="1.2"/>
<text x="287.30" y="344.53" font-size="3.9" text-anchor="middle" fill="#000" stroke="#000" stroke-width="0.06" textLength="4.0" lengthAdjust="spacingAndGlyphs">**</text>
<text x="297.70" y="344.53" font-size="3.9" text-anchor="middle" fill="#000" stroke="#000" stroke-width="0.06" textLength="6.0" lengthAdjust="spacingAndGlyphs">***</text>
<line x1="303.00" y1="340.60" x2="313.30" y2="340.60" stroke="#262626" stroke-width="1.2"/>
<text x="307.60" y="341.43" font-size="3.9" text-anchor="middle" fill="#000" stroke="#000" stroke-width="0.06" textLength="6.0" lengthAdjust="spacingAndGlyphs">***</text>
<line x1="352.10" y1="330.80" x2="352.10" y2="392.10" stroke="#000" stroke-width="1.3"/>
<line x1="349.10" y1="391.50" x2="352.10" y2="391.50" stroke="#000" stroke-width="1.1"/>
<text x="347.50" y="393.18" font-size="4.7" text-anchor="end" fill="#000" stroke="#000" stroke-width="0.06">0.0</text>
<line x1="349.10" y1="376.95" x2="352.10" y2="376.95" stroke="#000" stroke-width="1.1"/>
<text x="347.50" y="378.63" font-size="4.7" text-anchor="end" fill="#000" stroke="#000" stroke-width="0.06">0.5</text>
<line x1="349.10" y1="362.40" x2="352.10" y2="362.40" stroke="#000" stroke-width="1.1"/>
<text x="347.50" y="364.08" font-size="4.7" text-anchor="end" fill="#000" stroke="#000" stroke-width="0.06">1.0</text>
<line x1="349.10" y1="347.85" x2="352.10" y2="347.85" stroke="#000" stroke-width="1.1"/>
<text x="347.50" y="349.53" font-size="4.7" text-anchor="end" fill="#000" stroke="#000" stroke-width="0.06">1.5</text>
<line x1="349.10" y1="333.30" x2="352.10" y2="333.30" stroke="#000" stroke-width="1.1"/>
<text x="347.50" y="334.98" font-size="4.7" text-anchor="end" fill="#000" stroke="#000" stroke-width="0.06">2.0</text>
<rect x="358.10" y="362.98" width="5.80" height="28.52" fill="#2c4a7e"/>
<rect x="368.10" y="351.63" width="5.80" height="39.87" fill="#a1002b"/>
<line x1="371.00" y1="351.63" x2="371.00" y2="345.52" stroke="#111" stroke-width="1.1"/>
<line x1="369.10" y1="345.52" x2="372.90" y2="345.52" stroke="#111" stroke-width="1.1"/>
<rect x="378.10" y="367.64" width="5.80" height="23.86" fill="#2c4a7e"/>
<line x1="381.00" y1="367.64" x2="381.00" y2="364.44" stroke="#111" stroke-width="1.1"/>
<line x1="379.10" y1="364.44" x2="382.90" y2="364.44" stroke="#111" stroke-width="1.1"/>
<rect x="387.70" y="344.94" width="5.80" height="46.56" fill="#a1002b"/>
<line x1="390.60" y1="344.94" x2="390.60" y2="336.21" stroke="#111" stroke-width="1.1"/>
<line x1="388.70" y1="336.21" x2="392.50" y2="336.21" stroke="#111" stroke-width="1.1"/>
<line x1="351.60" y1="391.50" x2="397.70" y2="391.50" stroke="#000" stroke-width="1.4"/>
<text x="364.20" y="399.15" font-size="4.9" text-anchor="middle" fill="#000" stroke="#000" stroke-width="0.06" textLength="13.5" lengthAdjust="spacingAndGlyphs">DMSO</text>
<text x="384.20" y="399.15" font-size="4.9" text-anchor="middle" fill="#000" stroke="#000" stroke-width="0.06" textLength="8.7" lengthAdjust="spacingAndGlyphs">DEX</text>
<text x="328.49" y="360.80" font-size="5.0" text-anchor="middle" font-style="italic" fill="#000" stroke="#000" stroke-width="0.06" transform="rotate(-90 328.49 360.80)">PTGER4</text>
<text x="335.79" y="360.80" font-size="5.0" text-anchor="middle" fill="#000" stroke="#000" stroke-width="0.06" textLength="56.6" lengthAdjust="spacingAndGlyphs" transform="rotate(-90 335.79 360.80)">relative expression (AU)</text>
<line x1="359.60" y1="330.80" x2="389.70" y2="330.80" stroke="#262626" stroke-width="1.2"/>
<line x1="359.60" y1="330.80" x2="359.60" y2="350.10" stroke="#262626" stroke-width="1.2"/>
<line x1="389.70" y1="330.80" x2="389.70" y2="334.00" stroke="#262626" stroke-width="1.2"/>
<text x="374.60" y="329.90" font-size="4.0" text-anchor="middle" fill="#000" stroke="#000" stroke-width="0.06">P=0.07</text>
<line x1="380.60" y1="334.30" x2="389.70" y2="334.30" stroke="#262626" stroke-width="1.2"/>
<text x="386.00" y="335.13" font-size="3.9" text-anchor="middle" fill="#000" stroke="#000" stroke-width="0.06" textLength="2.0" lengthAdjust="spacingAndGlyphs">*</text>
<rect x="401.40" y="331.80" width="5.80" height="1.70" fill="#2c4a7e"/>
<rect x="401.40" y="338.00" width="5.80" height="1.70" fill="#a1002b"/>
<text x="409.00" y="334.20" font-size="4.5" fill="#000" stroke="#000" stroke-width="0.06" textLength="12.8" lengthAdjust="spacingAndGlyphs">DMSO</text>
<text x="409.00" y="340.40" font-size="4.5" fill="#000" stroke="#000" stroke-width="0.06">PGE<tspan font-size="3.1" dy="1">2</tspan></text>
<rect x="0.5" y="0.5" width="519" height="406" fill="none" stroke="#000" stroke-width="1.2"/>
</svg>
</body></html>
